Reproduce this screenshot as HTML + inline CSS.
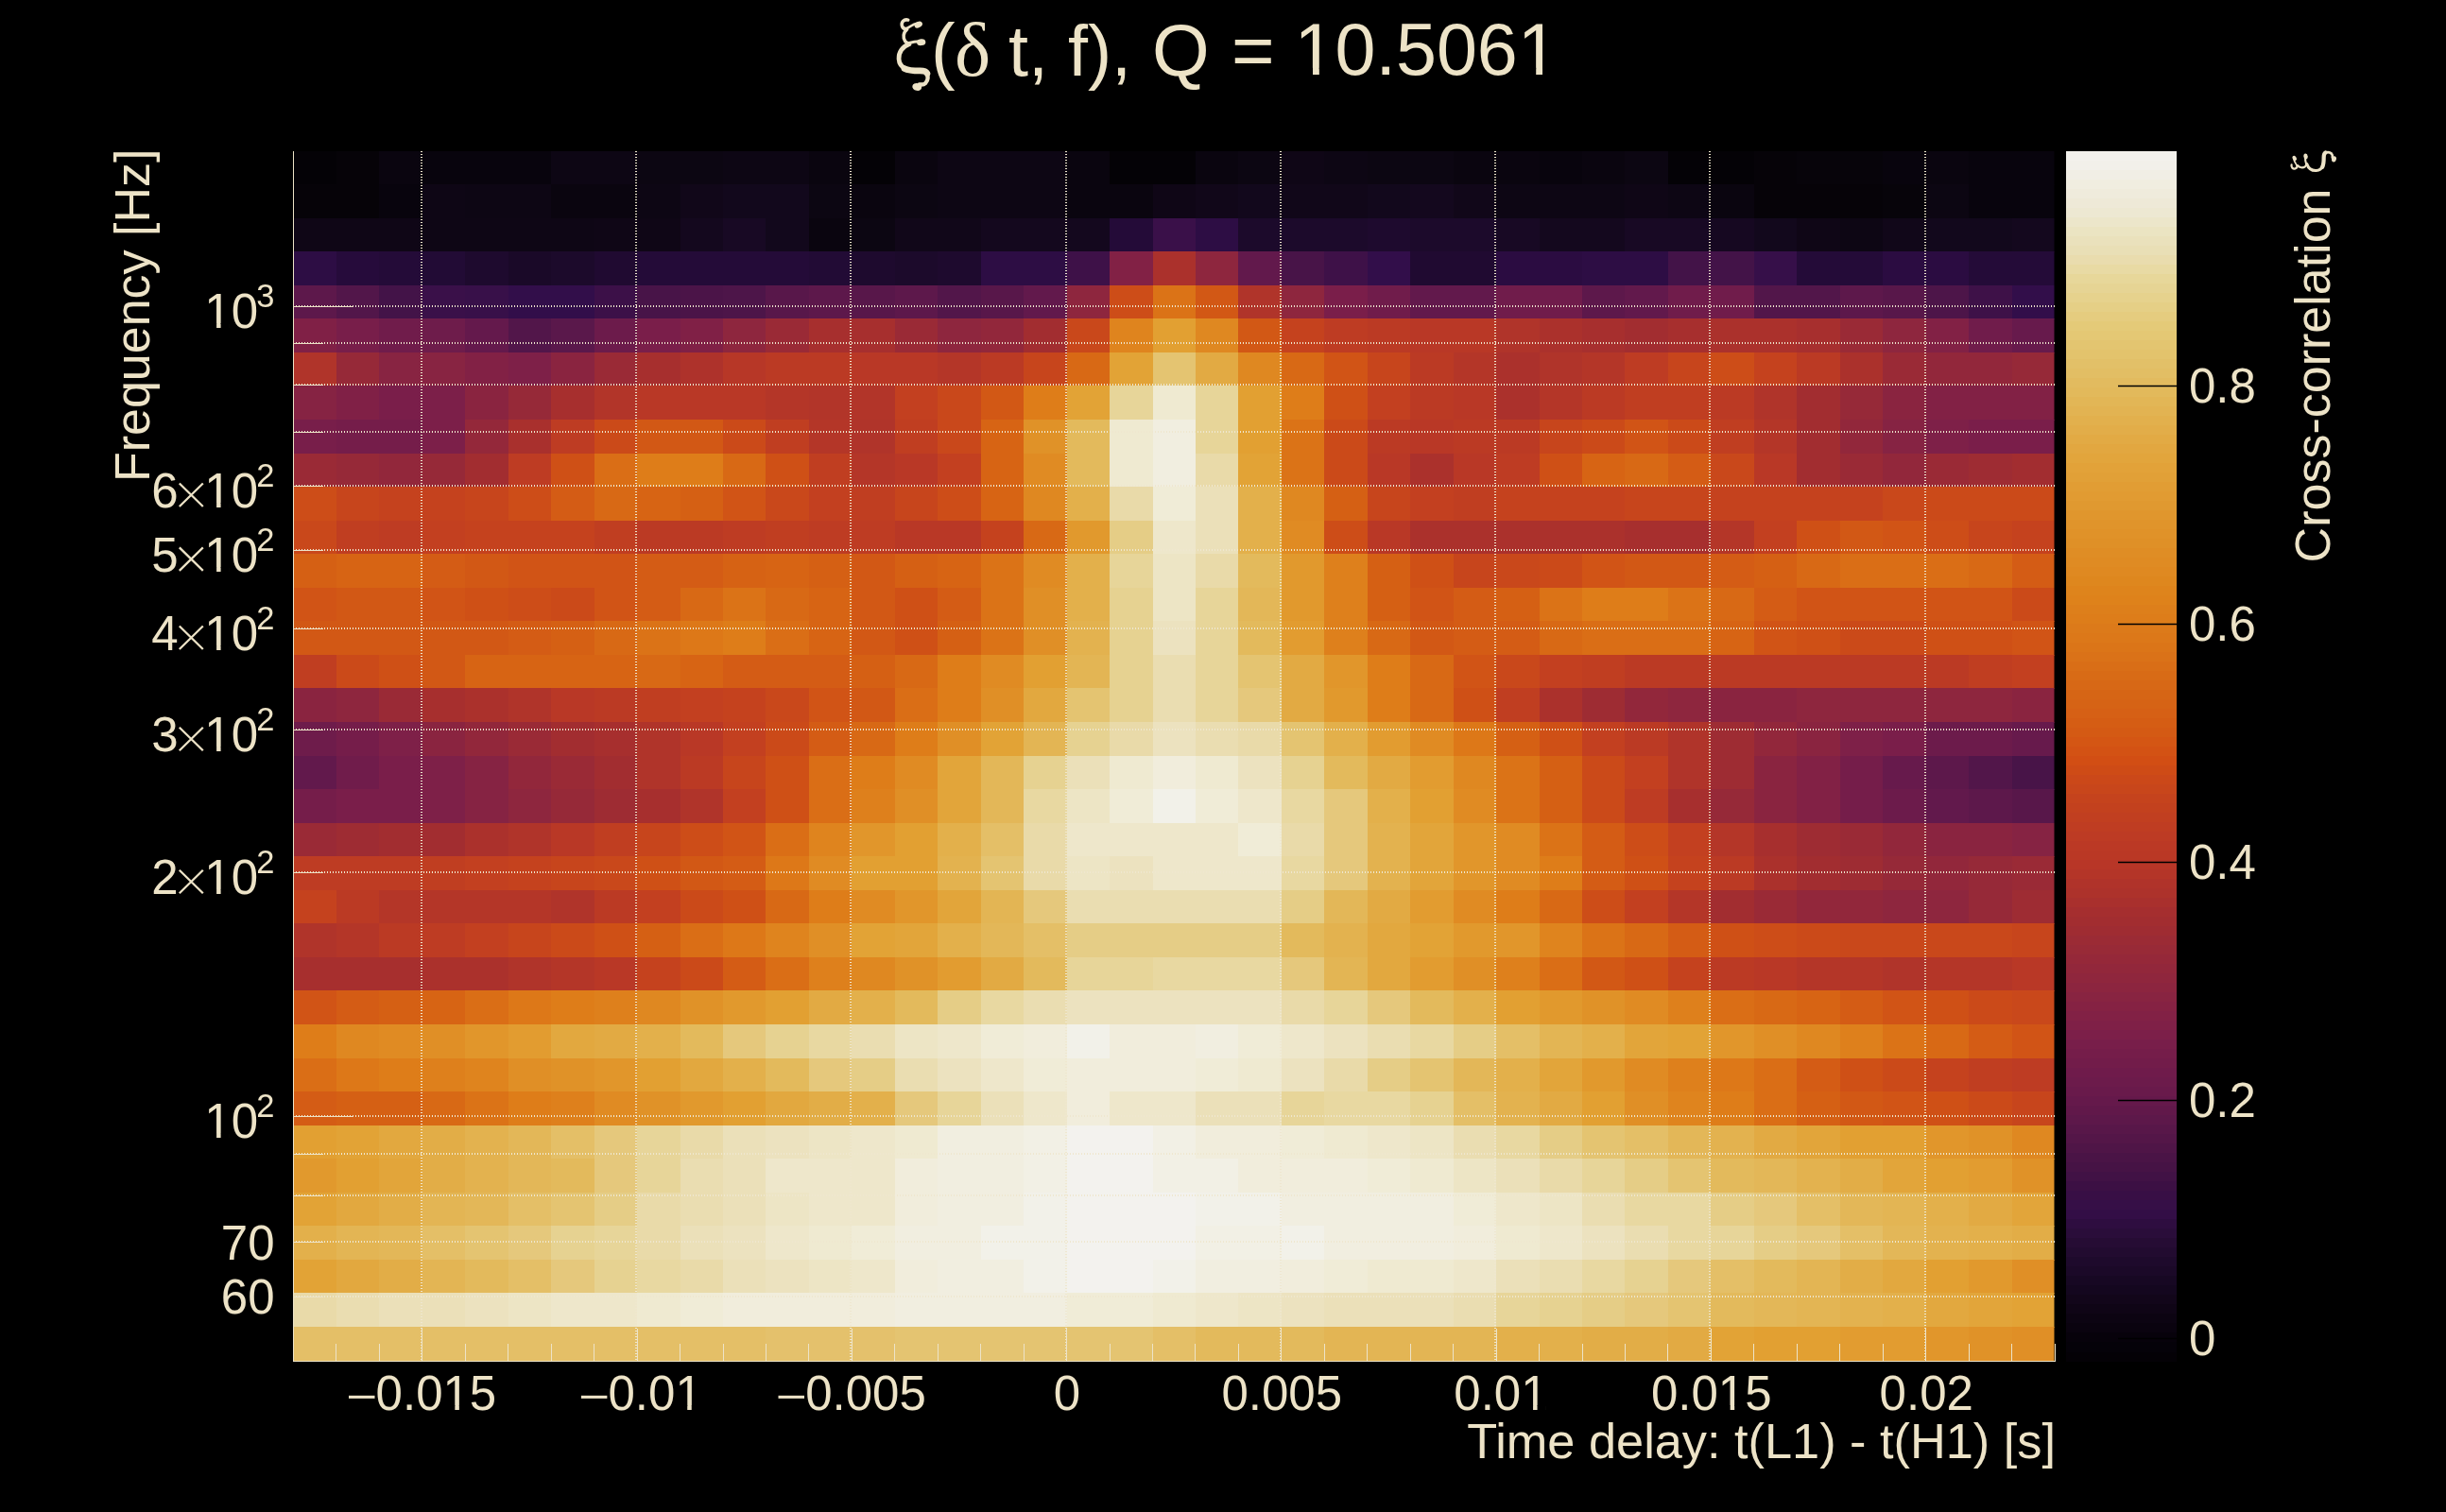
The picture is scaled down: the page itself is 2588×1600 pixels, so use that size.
<!DOCTYPE html><html><head><meta charset="utf-8"><style>
html,body{margin:0;padding:0;background:#000;width:2588px;height:1600px;overflow:hidden}
svg{position:absolute;left:0;top:0;will-change:transform}
text{font-family:"Liberation Sans",sans-serif;fill:#ede3c7}
.s{font-family:"Liberation Serif",serif}
</style></head><body>
<svg width="2588" height="1600" viewBox="0 0 2588 1600">
<rect x="0" y="0" width="2588" height="1600" fill="#000"/>
<defs><clipPath id="pc"><rect x="310" y="160" width="1863.5" height="1281"/></clipPath></defs>
<g shape-rendering="crispEdges" clip-path="url(#pc)">
<rect x="310.50" y="159.60" width="46.05" height="36.16" fill="#040206"/>
<rect x="355.95" y="159.60" width="46.05" height="36.16" fill="#060308"/>
<rect x="401.40" y="159.60" width="46.05" height="36.16" fill="#0a050f"/>
<rect x="446.85" y="159.60" width="46.05" height="36.16" fill="#08040d"/>
<rect x="492.30" y="159.60" width="46.05" height="36.16" fill="#08040d"/>
<rect x="537.76" y="159.60" width="46.05" height="36.16" fill="#08040d"/>
<rect x="583.21" y="159.60" width="46.05" height="36.16" fill="#0d0614"/>
<rect x="628.66" y="159.60" width="46.05" height="36.16" fill="#0d0614"/>
<rect x="674.11" y="159.60" width="46.05" height="36.16" fill="#0c0612"/>
<rect x="719.56" y="159.60" width="46.05" height="36.16" fill="#0c0612"/>
<rect x="765.01" y="159.60" width="46.05" height="36.16" fill="#0d0614"/>
<rect x="810.46" y="159.60" width="46.05" height="36.16" fill="#0d0614"/>
<rect x="855.91" y="159.60" width="46.05" height="36.16" fill="#0a050f"/>
<rect x="901.37" y="159.60" width="46.05" height="36.16" fill="#040206"/>
<rect x="946.82" y="159.60" width="46.05" height="36.16" fill="#0a050f"/>
<rect x="992.27" y="159.60" width="46.05" height="36.16" fill="#0d0614"/>
<rect x="1037.72" y="159.60" width="46.05" height="36.16" fill="#0d0614"/>
<rect x="1083.17" y="159.60" width="46.05" height="36.16" fill="#0d0614"/>
<rect x="1128.62" y="159.60" width="46.05" height="36.16" fill="#0a050f"/>
<rect x="1174.07" y="159.60" width="46.05" height="36.16" fill="#040206"/>
<rect x="1219.52" y="159.60" width="46.05" height="36.16" fill="#040206"/>
<rect x="1264.98" y="159.60" width="46.05" height="36.16" fill="#0a050f"/>
<rect x="1310.43" y="159.60" width="46.05" height="36.16" fill="#0c0612"/>
<rect x="1355.88" y="159.60" width="46.05" height="36.16" fill="#0f0616"/>
<rect x="1401.33" y="159.60" width="46.05" height="36.16" fill="#0d0614"/>
<rect x="1446.78" y="159.60" width="46.05" height="36.16" fill="#0c0612"/>
<rect x="1492.23" y="159.60" width="46.05" height="36.16" fill="#0c0612"/>
<rect x="1537.68" y="159.60" width="46.05" height="36.16" fill="#0a050f"/>
<rect x="1583.13" y="159.60" width="46.05" height="36.16" fill="#0a050f"/>
<rect x="1628.59" y="159.60" width="46.05" height="36.16" fill="#08040d"/>
<rect x="1674.04" y="159.60" width="46.05" height="36.16" fill="#0a050f"/>
<rect x="1719.49" y="159.60" width="46.05" height="36.16" fill="#0c0612"/>
<rect x="1764.94" y="159.60" width="46.05" height="36.16" fill="#040206"/>
<rect x="1810.39" y="159.60" width="46.05" height="36.16" fill="#040206"/>
<rect x="1855.84" y="159.60" width="46.05" height="36.16" fill="#060308"/>
<rect x="1901.29" y="159.60" width="46.05" height="36.16" fill="#07040a"/>
<rect x="1946.74" y="159.60" width="46.05" height="36.16" fill="#07040a"/>
<rect x="1992.20" y="159.60" width="46.05" height="36.16" fill="#08040d"/>
<rect x="2037.65" y="159.60" width="46.05" height="36.16" fill="#0a050f"/>
<rect x="2083.10" y="159.60" width="46.05" height="36.16" fill="#08040d"/>
<rect x="2128.55" y="159.60" width="46.05" height="36.16" fill="#08040d"/>
<rect x="310.50" y="195.16" width="46.05" height="36.16" fill="#060308"/>
<rect x="355.95" y="195.16" width="46.05" height="36.16" fill="#060308"/>
<rect x="401.40" y="195.16" width="46.05" height="36.16" fill="#08040d"/>
<rect x="446.85" y="195.16" width="46.05" height="36.16" fill="#0e0615"/>
<rect x="492.30" y="195.16" width="46.05" height="36.16" fill="#0d0614"/>
<rect x="537.76" y="195.16" width="46.05" height="36.16" fill="#0d0614"/>
<rect x="583.21" y="195.16" width="46.05" height="36.16" fill="#0a050f"/>
<rect x="628.66" y="195.16" width="46.05" height="36.16" fill="#0a050f"/>
<rect x="674.11" y="195.16" width="46.05" height="36.16" fill="#0d0614"/>
<rect x="719.56" y="195.16" width="46.05" height="36.16" fill="#110719"/>
<rect x="765.01" y="195.16" width="46.05" height="36.16" fill="#12081c"/>
<rect x="810.46" y="195.16" width="46.05" height="36.16" fill="#12081c"/>
<rect x="855.91" y="195.16" width="46.05" height="36.16" fill="#0c0612"/>
<rect x="901.37" y="195.16" width="46.05" height="36.16" fill="#0a050f"/>
<rect x="946.82" y="195.16" width="46.05" height="36.16" fill="#0c0612"/>
<rect x="992.27" y="195.16" width="46.05" height="36.16" fill="#0d0614"/>
<rect x="1037.72" y="195.16" width="46.05" height="36.16" fill="#0d0614"/>
<rect x="1083.17" y="195.16" width="46.05" height="36.16" fill="#0d0614"/>
<rect x="1128.62" y="195.16" width="46.05" height="36.16" fill="#0a050f"/>
<rect x="1174.07" y="195.16" width="46.05" height="36.16" fill="#0a050f"/>
<rect x="1219.52" y="195.16" width="46.05" height="36.16" fill="#0f0616"/>
<rect x="1264.98" y="195.16" width="46.05" height="36.16" fill="#110719"/>
<rect x="1310.43" y="195.16" width="46.05" height="36.16" fill="#12081c"/>
<rect x="1355.88" y="195.16" width="46.05" height="36.16" fill="#110719"/>
<rect x="1401.33" y="195.16" width="46.05" height="36.16" fill="#110719"/>
<rect x="1446.78" y="195.16" width="46.05" height="36.16" fill="#12081c"/>
<rect x="1492.23" y="195.16" width="46.05" height="36.16" fill="#14081e"/>
<rect x="1537.68" y="195.16" width="46.05" height="36.16" fill="#110719"/>
<rect x="1583.13" y="195.16" width="46.05" height="36.16" fill="#0d0614"/>
<rect x="1628.59" y="195.16" width="46.05" height="36.16" fill="#0d0614"/>
<rect x="1674.04" y="195.16" width="46.05" height="36.16" fill="#0d0614"/>
<rect x="1719.49" y="195.16" width="46.05" height="36.16" fill="#0f0616"/>
<rect x="1764.94" y="195.16" width="46.05" height="36.16" fill="#0d0614"/>
<rect x="1810.39" y="195.16" width="46.05" height="36.16" fill="#0a050f"/>
<rect x="1855.84" y="195.16" width="46.05" height="36.16" fill="#060308"/>
<rect x="1901.29" y="195.16" width="46.05" height="36.16" fill="#060308"/>
<rect x="1946.74" y="195.16" width="46.05" height="36.16" fill="#060308"/>
<rect x="1992.20" y="195.16" width="46.05" height="36.16" fill="#07040a"/>
<rect x="2037.65" y="195.16" width="46.05" height="36.16" fill="#0c0612"/>
<rect x="2083.10" y="195.16" width="46.05" height="36.16" fill="#08040d"/>
<rect x="2128.55" y="195.16" width="46.05" height="36.16" fill="#08040d"/>
<rect x="310.50" y="230.71" width="46.05" height="36.16" fill="#0f0616"/>
<rect x="355.95" y="230.71" width="46.05" height="36.16" fill="#0f0616"/>
<rect x="401.40" y="230.71" width="46.05" height="36.16" fill="#0f0616"/>
<rect x="446.85" y="230.71" width="46.05" height="36.16" fill="#0e0615"/>
<rect x="492.30" y="230.71" width="46.05" height="36.16" fill="#0e0615"/>
<rect x="537.76" y="230.71" width="46.05" height="36.16" fill="#0e0615"/>
<rect x="583.21" y="230.71" width="46.05" height="36.16" fill="#0e0615"/>
<rect x="628.66" y="230.71" width="46.05" height="36.16" fill="#0f0616"/>
<rect x="674.11" y="230.71" width="46.05" height="36.16" fill="#0f0616"/>
<rect x="719.56" y="230.71" width="46.05" height="36.16" fill="#14081e"/>
<rect x="765.01" y="230.71" width="46.05" height="36.16" fill="#180924"/>
<rect x="810.46" y="230.71" width="46.05" height="36.16" fill="#12081c"/>
<rect x="855.91" y="230.71" width="46.05" height="36.16" fill="#0a050f"/>
<rect x="901.37" y="230.71" width="46.05" height="36.16" fill="#0c0612"/>
<rect x="946.82" y="230.71" width="46.05" height="36.16" fill="#110719"/>
<rect x="992.27" y="230.71" width="46.05" height="36.16" fill="#110719"/>
<rect x="1037.72" y="230.71" width="46.05" height="36.16" fill="#14081e"/>
<rect x="1083.17" y="230.71" width="46.05" height="36.16" fill="#14081e"/>
<rect x="1128.62" y="230.71" width="46.05" height="36.16" fill="#14081e"/>
<rect x="1174.07" y="230.71" width="46.05" height="36.16" fill="#240b38"/>
<rect x="1219.52" y="230.71" width="46.05" height="36.16" fill="#3a1049"/>
<rect x="1264.98" y="230.71" width="46.05" height="36.16" fill="#2d0d44"/>
<rect x="1310.43" y="230.71" width="46.05" height="36.16" fill="#1c0a2b"/>
<rect x="1355.88" y="230.71" width="46.05" height="36.16" fill="#1c0a2b"/>
<rect x="1401.33" y="230.71" width="46.05" height="36.16" fill="#1c0a2b"/>
<rect x="1446.78" y="230.71" width="46.05" height="36.16" fill="#1e0a2e"/>
<rect x="1492.23" y="230.71" width="46.05" height="36.16" fill="#1c0a2b"/>
<rect x="1537.68" y="230.71" width="46.05" height="36.16" fill="#1c0a2b"/>
<rect x="1583.13" y="230.71" width="46.05" height="36.16" fill="#180924"/>
<rect x="1628.59" y="230.71" width="46.05" height="36.16" fill="#14081e"/>
<rect x="1674.04" y="230.71" width="46.05" height="36.16" fill="#14081e"/>
<rect x="1719.49" y="230.71" width="46.05" height="36.16" fill="#180924"/>
<rect x="1764.94" y="230.71" width="46.05" height="36.16" fill="#180924"/>
<rect x="1810.39" y="230.71" width="46.05" height="36.16" fill="#160821"/>
<rect x="1855.84" y="230.71" width="46.05" height="36.16" fill="#12081c"/>
<rect x="1901.29" y="230.71" width="46.05" height="36.16" fill="#0f0616"/>
<rect x="1946.74" y="230.71" width="46.05" height="36.16" fill="#0d0614"/>
<rect x="1992.20" y="230.71" width="46.05" height="36.16" fill="#110719"/>
<rect x="2037.65" y="230.71" width="46.05" height="36.16" fill="#12081c"/>
<rect x="2083.10" y="230.71" width="46.05" height="36.16" fill="#12081c"/>
<rect x="2128.55" y="230.71" width="46.05" height="36.16" fill="#14081e"/>
<rect x="310.50" y="266.27" width="46.05" height="36.16" fill="#2d0d44"/>
<rect x="355.95" y="266.27" width="46.05" height="36.16" fill="#260b3b"/>
<rect x="401.40" y="266.27" width="46.05" height="36.16" fill="#240b38"/>
<rect x="446.85" y="266.27" width="46.05" height="36.16" fill="#220b35"/>
<rect x="492.30" y="266.27" width="46.05" height="36.16" fill="#1e0a2e"/>
<rect x="537.76" y="266.27" width="46.05" height="36.16" fill="#1a0928"/>
<rect x="583.21" y="266.27" width="46.05" height="36.16" fill="#1c0a2b"/>
<rect x="628.66" y="266.27" width="46.05" height="36.16" fill="#200a31"/>
<rect x="674.11" y="266.27" width="46.05" height="36.16" fill="#240b38"/>
<rect x="719.56" y="266.27" width="46.05" height="36.16" fill="#240b38"/>
<rect x="765.01" y="266.27" width="46.05" height="36.16" fill="#240b38"/>
<rect x="810.46" y="266.27" width="46.05" height="36.16" fill="#240b38"/>
<rect x="855.91" y="266.27" width="46.05" height="36.16" fill="#220b35"/>
<rect x="901.37" y="266.27" width="46.05" height="36.16" fill="#1e0a2e"/>
<rect x="946.82" y="266.27" width="46.05" height="36.16" fill="#1c0a2b"/>
<rect x="992.27" y="266.27" width="46.05" height="36.16" fill="#1e0a2e"/>
<rect x="1037.72" y="266.27" width="46.05" height="36.16" fill="#2d0d44"/>
<rect x="1083.17" y="266.27" width="46.05" height="36.16" fill="#2d0d44"/>
<rect x="1128.62" y="266.27" width="46.05" height="36.16" fill="#3e1148"/>
<rect x="1174.07" y="266.27" width="46.05" height="36.16" fill="#822145"/>
<rect x="1219.52" y="266.27" width="46.05" height="36.16" fill="#ab312c"/>
<rect x="1264.98" y="266.27" width="46.05" height="36.16" fill="#8e263e"/>
<rect x="1310.43" y="266.27" width="46.05" height="36.16" fill="#62194c"/>
<rect x="1355.88" y="266.27" width="46.05" height="36.16" fill="#481448"/>
<rect x="1401.33" y="266.27" width="46.05" height="36.16" fill="#3e1148"/>
<rect x="1446.78" y="266.27" width="46.05" height="36.16" fill="#320e4a"/>
<rect x="1492.23" y="266.27" width="46.05" height="36.16" fill="#200a31"/>
<rect x="1537.68" y="266.27" width="46.05" height="36.16" fill="#200a31"/>
<rect x="1583.13" y="266.27" width="46.05" height="36.16" fill="#2b0c41"/>
<rect x="1628.59" y="266.27" width="46.05" height="36.16" fill="#2b0c41"/>
<rect x="1674.04" y="266.27" width="46.05" height="36.16" fill="#2d0d44"/>
<rect x="1719.49" y="266.27" width="46.05" height="36.16" fill="#2d0d44"/>
<rect x="1764.94" y="266.27" width="46.05" height="36.16" fill="#431348"/>
<rect x="1810.39" y="266.27" width="46.05" height="36.16" fill="#431348"/>
<rect x="1855.84" y="266.27" width="46.05" height="36.16" fill="#360f49"/>
<rect x="1901.29" y="266.27" width="46.05" height="36.16" fill="#240b38"/>
<rect x="1946.74" y="266.27" width="46.05" height="36.16" fill="#240b38"/>
<rect x="1992.20" y="266.27" width="46.05" height="36.16" fill="#2b0c41"/>
<rect x="2037.65" y="266.27" width="46.05" height="36.16" fill="#2b0c41"/>
<rect x="2083.10" y="266.27" width="46.05" height="36.16" fill="#240b38"/>
<rect x="2128.55" y="266.27" width="46.05" height="36.16" fill="#240b38"/>
<rect x="310.50" y="301.82" width="46.05" height="36.16" fill="#5d184b"/>
<rect x="355.95" y="301.82" width="46.05" height="36.16" fill="#52164a"/>
<rect x="401.40" y="301.82" width="46.05" height="36.16" fill="#431348"/>
<rect x="446.85" y="301.82" width="46.05" height="36.16" fill="#3a1049"/>
<rect x="492.30" y="301.82" width="46.05" height="36.16" fill="#381049"/>
<rect x="537.76" y="301.82" width="46.05" height="36.16" fill="#320e4a"/>
<rect x="583.21" y="301.82" width="46.05" height="36.16" fill="#320e4a"/>
<rect x="628.66" y="301.82" width="46.05" height="36.16" fill="#3c1048"/>
<rect x="674.11" y="301.82" width="46.05" height="36.16" fill="#481448"/>
<rect x="719.56" y="301.82" width="46.05" height="36.16" fill="#4b1448"/>
<rect x="765.01" y="301.82" width="46.05" height="36.16" fill="#4d1549"/>
<rect x="810.46" y="301.82" width="46.05" height="36.16" fill="#58174a"/>
<rect x="855.91" y="301.82" width="46.05" height="36.16" fill="#5d184b"/>
<rect x="901.37" y="301.82" width="46.05" height="36.16" fill="#58174a"/>
<rect x="946.82" y="301.82" width="46.05" height="36.16" fill="#5d184b"/>
<rect x="992.27" y="301.82" width="46.05" height="36.16" fill="#52164a"/>
<rect x="1037.72" y="301.82" width="46.05" height="36.16" fill="#58174a"/>
<rect x="1083.17" y="301.82" width="46.05" height="36.16" fill="#62194c"/>
<rect x="1128.62" y="301.82" width="46.05" height="36.16" fill="#8e263e"/>
<rect x="1174.07" y="301.82" width="46.05" height="36.16" fill="#cd4d18"/>
<rect x="1219.52" y="301.82" width="46.05" height="36.16" fill="#db7317"/>
<rect x="1264.98" y="301.82" width="46.05" height="36.16" fill="#d25815"/>
<rect x="1310.43" y="301.82" width="46.05" height="36.16" fill="#b0342a"/>
<rect x="1355.88" y="301.82" width="46.05" height="36.16" fill="#8e263e"/>
<rect x="1401.33" y="301.82" width="46.05" height="36.16" fill="#7a1e4a"/>
<rect x="1446.78" y="301.82" width="46.05" height="36.16" fill="#701c4b"/>
<rect x="1492.23" y="301.82" width="46.05" height="36.16" fill="#62194c"/>
<rect x="1537.68" y="301.82" width="46.05" height="36.16" fill="#62194c"/>
<rect x="1583.13" y="301.82" width="46.05" height="36.16" fill="#701c4b"/>
<rect x="1628.59" y="301.82" width="46.05" height="36.16" fill="#701c4b"/>
<rect x="1674.04" y="301.82" width="46.05" height="36.16" fill="#5d184b"/>
<rect x="1719.49" y="301.82" width="46.05" height="36.16" fill="#62194c"/>
<rect x="1764.94" y="301.82" width="46.05" height="36.16" fill="#701c4b"/>
<rect x="1810.39" y="301.82" width="46.05" height="36.16" fill="#701c4b"/>
<rect x="1855.84" y="301.82" width="46.05" height="36.16" fill="#52164a"/>
<rect x="1901.29" y="301.82" width="46.05" height="36.16" fill="#52164a"/>
<rect x="1946.74" y="301.82" width="46.05" height="36.16" fill="#5d184b"/>
<rect x="1992.20" y="301.82" width="46.05" height="36.16" fill="#58174a"/>
<rect x="2037.65" y="301.82" width="46.05" height="36.16" fill="#4d1549"/>
<rect x="2083.10" y="301.82" width="46.05" height="36.16" fill="#3e1148"/>
<rect x="2128.55" y="301.82" width="46.05" height="36.16" fill="#320e4a"/>
<rect x="310.50" y="337.38" width="46.05" height="36.16" fill="#802046"/>
<rect x="355.95" y="337.38" width="46.05" height="36.16" fill="#781e4a"/>
<rect x="401.40" y="337.38" width="46.05" height="36.16" fill="#701c4b"/>
<rect x="446.85" y="337.38" width="46.05" height="36.16" fill="#6e1c4b"/>
<rect x="492.30" y="337.38" width="46.05" height="36.16" fill="#64194c"/>
<rect x="537.76" y="337.38" width="46.05" height="36.16" fill="#52164a"/>
<rect x="583.21" y="337.38" width="46.05" height="36.16" fill="#5a184b"/>
<rect x="628.66" y="337.38" width="46.05" height="36.16" fill="#6c1b4b"/>
<rect x="674.11" y="337.38" width="46.05" height="36.16" fill="#7a1e4a"/>
<rect x="719.56" y="337.38" width="46.05" height="36.16" fill="#802046"/>
<rect x="765.01" y="337.38" width="46.05" height="36.16" fill="#8e263e"/>
<rect x="810.46" y="337.38" width="46.05" height="36.16" fill="#9a2a36"/>
<rect x="855.91" y="337.38" width="46.05" height="36.16" fill="#a72f2e"/>
<rect x="901.37" y="337.38" width="46.05" height="36.16" fill="#a72f2e"/>
<rect x="946.82" y="337.38" width="46.05" height="36.16" fill="#9a2a36"/>
<rect x="992.27" y="337.38" width="46.05" height="36.16" fill="#8e263e"/>
<rect x="1037.72" y="337.38" width="46.05" height="36.16" fill="#92273b"/>
<rect x="1083.17" y="337.38" width="46.05" height="36.16" fill="#a22d30"/>
<rect x="1128.62" y="337.38" width="46.05" height="36.16" fill="#c9481b"/>
<rect x="1174.07" y="337.38" width="46.05" height="36.16" fill="#df841e"/>
<rect x="1219.52" y="337.38" width="46.05" height="36.16" fill="#e2a032"/>
<rect x="1264.98" y="337.38" width="46.05" height="36.16" fill="#df8821"/>
<rect x="1310.43" y="337.38" width="46.05" height="36.16" fill="#d25815"/>
<rect x="1355.88" y="337.38" width="46.05" height="36.16" fill="#c5421e"/>
<rect x="1401.33" y="337.38" width="46.05" height="36.16" fill="#be3c23"/>
<rect x="1446.78" y="337.38" width="46.05" height="36.16" fill="#bb3a24"/>
<rect x="1492.23" y="337.38" width="46.05" height="36.16" fill="#b93826"/>
<rect x="1537.68" y="337.38" width="46.05" height="36.16" fill="#b93826"/>
<rect x="1583.13" y="337.38" width="46.05" height="36.16" fill="#b0342a"/>
<rect x="1628.59" y="337.38" width="46.05" height="36.16" fill="#ab312c"/>
<rect x="1674.04" y="337.38" width="46.05" height="36.16" fill="#a72f2e"/>
<rect x="1719.49" y="337.38" width="46.05" height="36.16" fill="#a22d30"/>
<rect x="1764.94" y="337.38" width="46.05" height="36.16" fill="#a72f2e"/>
<rect x="1810.39" y="337.38" width="46.05" height="36.16" fill="#ab312c"/>
<rect x="1855.84" y="337.38" width="46.05" height="36.16" fill="#ab312c"/>
<rect x="1901.29" y="337.38" width="46.05" height="36.16" fill="#a72f2e"/>
<rect x="1946.74" y="337.38" width="46.05" height="36.16" fill="#9a2a36"/>
<rect x="1992.20" y="337.38" width="46.05" height="36.16" fill="#8e263e"/>
<rect x="2037.65" y="337.38" width="46.05" height="36.16" fill="#822145"/>
<rect x="2083.10" y="337.38" width="46.05" height="36.16" fill="#701c4b"/>
<rect x="2128.55" y="337.38" width="46.05" height="36.16" fill="#671a4c"/>
<rect x="310.50" y="372.93" width="46.05" height="36.16" fill="#b0342a"/>
<rect x="355.95" y="372.93" width="46.05" height="36.16" fill="#962938"/>
<rect x="401.40" y="372.93" width="46.05" height="36.16" fill="#882442"/>
<rect x="446.85" y="372.93" width="46.05" height="36.16" fill="#882442"/>
<rect x="492.30" y="372.93" width="46.05" height="36.16" fill="#822145"/>
<rect x="537.76" y="372.93" width="46.05" height="36.16" fill="#7e2048"/>
<rect x="583.21" y="372.93" width="46.05" height="36.16" fill="#8a2440"/>
<rect x="628.66" y="372.93" width="46.05" height="36.16" fill="#9a2a36"/>
<rect x="674.11" y="372.93" width="46.05" height="36.16" fill="#a72f2e"/>
<rect x="719.56" y="372.93" width="46.05" height="36.16" fill="#ae322b"/>
<rect x="765.01" y="372.93" width="46.05" height="36.16" fill="#b73727"/>
<rect x="810.46" y="372.93" width="46.05" height="36.16" fill="#bb3a24"/>
<rect x="855.91" y="372.93" width="46.05" height="36.16" fill="#bb3a24"/>
<rect x="901.37" y="372.93" width="46.05" height="36.16" fill="#b93826"/>
<rect x="946.82" y="372.93" width="46.05" height="36.16" fill="#b93826"/>
<rect x="992.27" y="372.93" width="46.05" height="36.16" fill="#b43628"/>
<rect x="1037.72" y="372.93" width="46.05" height="36.16" fill="#bb3a24"/>
<rect x="1083.17" y="372.93" width="46.05" height="36.16" fill="#c7451c"/>
<rect x="1128.62" y="372.93" width="46.05" height="36.16" fill="#d86915"/>
<rect x="1174.07" y="372.93" width="46.05" height="36.16" fill="#e2a336"/>
<rect x="1219.52" y="372.93" width="46.05" height="36.16" fill="#e4c471"/>
<rect x="1264.98" y="372.93" width="46.05" height="36.16" fill="#e2aa43"/>
<rect x="1310.43" y="372.93" width="46.05" height="36.16" fill="#df8821"/>
<rect x="1355.88" y="372.93" width="46.05" height="36.16" fill="#d86915"/>
<rect x="1401.33" y="372.93" width="46.05" height="36.16" fill="#d15416"/>
<rect x="1446.78" y="372.93" width="46.05" height="36.16" fill="#c7451c"/>
<rect x="1492.23" y="372.93" width="46.05" height="36.16" fill="#bb3a24"/>
<rect x="1537.68" y="372.93" width="46.05" height="36.16" fill="#b43628"/>
<rect x="1583.13" y="372.93" width="46.05" height="36.16" fill="#ab312c"/>
<rect x="1628.59" y="372.93" width="46.05" height="36.16" fill="#b0342a"/>
<rect x="1674.04" y="372.93" width="46.05" height="36.16" fill="#b43628"/>
<rect x="1719.49" y="372.93" width="46.05" height="36.16" fill="#be3c23"/>
<rect x="1764.94" y="372.93" width="46.05" height="36.16" fill="#c7451c"/>
<rect x="1810.39" y="372.93" width="46.05" height="36.16" fill="#cd4d18"/>
<rect x="1855.84" y="372.93" width="46.05" height="36.16" fill="#c5421e"/>
<rect x="1901.29" y="372.93" width="46.05" height="36.16" fill="#bb3a24"/>
<rect x="1946.74" y="372.93" width="46.05" height="36.16" fill="#ab312c"/>
<rect x="1992.20" y="372.93" width="46.05" height="36.16" fill="#9a2a36"/>
<rect x="2037.65" y="372.93" width="46.05" height="36.16" fill="#92273b"/>
<rect x="2083.10" y="372.93" width="46.05" height="36.16" fill="#92273b"/>
<rect x="2128.55" y="372.93" width="46.05" height="36.16" fill="#962938"/>
<rect x="310.50" y="408.49" width="46.05" height="36.16" fill="#862343"/>
<rect x="355.95" y="408.49" width="46.05" height="36.16" fill="#802046"/>
<rect x="401.40" y="408.49" width="46.05" height="36.16" fill="#7a1e4a"/>
<rect x="446.85" y="408.49" width="46.05" height="36.16" fill="#7c1f49"/>
<rect x="492.30" y="408.49" width="46.05" height="36.16" fill="#8a2440"/>
<rect x="537.76" y="408.49" width="46.05" height="36.16" fill="#962938"/>
<rect x="583.21" y="408.49" width="46.05" height="36.16" fill="#a72f2e"/>
<rect x="628.66" y="408.49" width="46.05" height="36.16" fill="#b23529"/>
<rect x="674.11" y="408.49" width="46.05" height="36.16" fill="#b93826"/>
<rect x="719.56" y="408.49" width="46.05" height="36.16" fill="#b93826"/>
<rect x="765.01" y="408.49" width="46.05" height="36.16" fill="#b93826"/>
<rect x="810.46" y="408.49" width="46.05" height="36.16" fill="#b43628"/>
<rect x="855.91" y="408.49" width="46.05" height="36.16" fill="#b23529"/>
<rect x="901.37" y="408.49" width="46.05" height="36.16" fill="#b23529"/>
<rect x="946.82" y="408.49" width="46.05" height="36.16" fill="#c34020"/>
<rect x="992.27" y="408.49" width="46.05" height="36.16" fill="#c9481b"/>
<rect x="1037.72" y="408.49" width="46.05" height="36.16" fill="#d25815"/>
<rect x="1083.17" y="408.49" width="46.05" height="36.16" fill="#de7d19"/>
<rect x="1128.62" y="408.49" width="46.05" height="36.16" fill="#e2a336"/>
<rect x="1174.07" y="408.49" width="46.05" height="36.16" fill="#e7d599"/>
<rect x="1219.52" y="408.49" width="46.05" height="36.16" fill="#efead1"/>
<rect x="1264.98" y="408.49" width="46.05" height="36.16" fill="#e7d599"/>
<rect x="1310.43" y="408.49" width="46.05" height="36.16" fill="#e2a032"/>
<rect x="1355.88" y="408.49" width="46.05" height="36.16" fill="#de7d19"/>
<rect x="1401.33" y="408.49" width="46.05" height="36.16" fill="#cf5016"/>
<rect x="1446.78" y="408.49" width="46.05" height="36.16" fill="#c34020"/>
<rect x="1492.23" y="408.49" width="46.05" height="36.16" fill="#bb3a24"/>
<rect x="1537.68" y="408.49" width="46.05" height="36.16" fill="#b93826"/>
<rect x="1583.13" y="408.49" width="46.05" height="36.16" fill="#ab312c"/>
<rect x="1628.59" y="408.49" width="46.05" height="36.16" fill="#b43628"/>
<rect x="1674.04" y="408.49" width="46.05" height="36.16" fill="#bb3a24"/>
<rect x="1719.49" y="408.49" width="46.05" height="36.16" fill="#c03e21"/>
<rect x="1764.94" y="408.49" width="46.05" height="36.16" fill="#c03e21"/>
<rect x="1810.39" y="408.49" width="46.05" height="36.16" fill="#bb3a24"/>
<rect x="1855.84" y="408.49" width="46.05" height="36.16" fill="#b0342a"/>
<rect x="1901.29" y="408.49" width="46.05" height="36.16" fill="#a22d30"/>
<rect x="1946.74" y="408.49" width="46.05" height="36.16" fill="#962938"/>
<rect x="1992.20" y="408.49" width="46.05" height="36.16" fill="#8a2440"/>
<rect x="2037.65" y="408.49" width="46.05" height="36.16" fill="#822145"/>
<rect x="2083.10" y="408.49" width="46.05" height="36.16" fill="#822145"/>
<rect x="2128.55" y="408.49" width="46.05" height="36.16" fill="#822145"/>
<rect x="310.50" y="444.04" width="46.05" height="36.16" fill="#781e4a"/>
<rect x="355.95" y="444.04" width="46.05" height="36.16" fill="#751d4a"/>
<rect x="401.40" y="444.04" width="46.05" height="36.16" fill="#751d4a"/>
<rect x="446.85" y="444.04" width="46.05" height="36.16" fill="#7c1f49"/>
<rect x="492.30" y="444.04" width="46.05" height="36.16" fill="#94283a"/>
<rect x="537.76" y="444.04" width="46.05" height="36.16" fill="#a9302d"/>
<rect x="583.21" y="444.04" width="46.05" height="36.16" fill="#be3c23"/>
<rect x="628.66" y="444.04" width="46.05" height="36.16" fill="#cb4a19"/>
<rect x="674.11" y="444.04" width="46.05" height="36.16" fill="#d25815"/>
<rect x="719.56" y="444.04" width="46.05" height="36.16" fill="#d25815"/>
<rect x="765.01" y="444.04" width="46.05" height="36.16" fill="#cb4a19"/>
<rect x="810.46" y="444.04" width="46.05" height="36.16" fill="#c03e21"/>
<rect x="855.91" y="444.04" width="46.05" height="36.16" fill="#b43628"/>
<rect x="901.37" y="444.04" width="46.05" height="36.16" fill="#b0342a"/>
<rect x="946.82" y="444.04" width="46.05" height="36.16" fill="#c03e21"/>
<rect x="992.27" y="444.04" width="46.05" height="36.16" fill="#c9481b"/>
<rect x="1037.72" y="444.04" width="46.05" height="36.16" fill="#d76414"/>
<rect x="1083.17" y="444.04" width="46.05" height="36.16" fill="#e09228"/>
<rect x="1128.62" y="444.04" width="46.05" height="36.16" fill="#e3ba5c"/>
<rect x="1174.07" y="444.04" width="46.05" height="36.16" fill="#efead1"/>
<rect x="1219.52" y="444.04" width="46.05" height="36.16" fill="#f1eee0"/>
<rect x="1264.98" y="444.04" width="46.05" height="36.16" fill="#e7d599"/>
<rect x="1310.43" y="444.04" width="46.05" height="36.16" fill="#e2a032"/>
<rect x="1355.88" y="444.04" width="46.05" height="36.16" fill="#db7317"/>
<rect x="1401.33" y="444.04" width="46.05" height="36.16" fill="#cb4a19"/>
<rect x="1446.78" y="444.04" width="46.05" height="36.16" fill="#bb3a24"/>
<rect x="1492.23" y="444.04" width="46.05" height="36.16" fill="#b93826"/>
<rect x="1537.68" y="444.04" width="46.05" height="36.16" fill="#bb3a24"/>
<rect x="1583.13" y="444.04" width="46.05" height="36.16" fill="#bb3a24"/>
<rect x="1628.59" y="444.04" width="46.05" height="36.16" fill="#c7451c"/>
<rect x="1674.04" y="444.04" width="46.05" height="36.16" fill="#cb4a19"/>
<rect x="1719.49" y="444.04" width="46.05" height="36.16" fill="#d15416"/>
<rect x="1764.94" y="444.04" width="46.05" height="36.16" fill="#cb4a19"/>
<rect x="1810.39" y="444.04" width="46.05" height="36.16" fill="#c03e21"/>
<rect x="1855.84" y="444.04" width="46.05" height="36.16" fill="#b43628"/>
<rect x="1901.29" y="444.04" width="46.05" height="36.16" fill="#a22d30"/>
<rect x="1946.74" y="444.04" width="46.05" height="36.16" fill="#92273b"/>
<rect x="1992.20" y="444.04" width="46.05" height="36.16" fill="#862343"/>
<rect x="2037.65" y="444.04" width="46.05" height="36.16" fill="#7e2048"/>
<rect x="2083.10" y="444.04" width="46.05" height="36.16" fill="#7a1e4a"/>
<rect x="2128.55" y="444.04" width="46.05" height="36.16" fill="#7a1e4a"/>
<rect x="310.50" y="479.60" width="46.05" height="36.16" fill="#9a2a36"/>
<rect x="355.95" y="479.60" width="46.05" height="36.16" fill="#962938"/>
<rect x="401.40" y="479.60" width="46.05" height="36.16" fill="#92273b"/>
<rect x="446.85" y="479.60" width="46.05" height="36.16" fill="#962938"/>
<rect x="492.30" y="479.60" width="46.05" height="36.16" fill="#a22d30"/>
<rect x="537.76" y="479.60" width="46.05" height="36.16" fill="#be3c23"/>
<rect x="583.21" y="479.60" width="46.05" height="36.16" fill="#cf5016"/>
<rect x="628.66" y="479.60" width="46.05" height="36.16" fill="#da6e16"/>
<rect x="674.11" y="479.60" width="46.05" height="36.16" fill="#de7d19"/>
<rect x="719.56" y="479.60" width="46.05" height="36.16" fill="#de7d19"/>
<rect x="765.01" y="479.60" width="46.05" height="36.16" fill="#d86915"/>
<rect x="810.46" y="479.60" width="46.05" height="36.16" fill="#cf5016"/>
<rect x="855.91" y="479.60" width="46.05" height="36.16" fill="#c03e21"/>
<rect x="901.37" y="479.60" width="46.05" height="36.16" fill="#b43628"/>
<rect x="946.82" y="479.60" width="46.05" height="36.16" fill="#b93826"/>
<rect x="992.27" y="479.60" width="46.05" height="36.16" fill="#c34020"/>
<rect x="1037.72" y="479.60" width="46.05" height="36.16" fill="#d76414"/>
<rect x="1083.17" y="479.60" width="46.05" height="36.16" fill="#e08b23"/>
<rect x="1128.62" y="479.60" width="46.05" height="36.16" fill="#e3ba5c"/>
<rect x="1174.07" y="479.60" width="46.05" height="36.16" fill="#efead1"/>
<rect x="1219.52" y="479.60" width="46.05" height="36.16" fill="#f1eee0"/>
<rect x="1264.98" y="479.60" width="46.05" height="36.16" fill="#e9daa9"/>
<rect x="1310.43" y="479.60" width="46.05" height="36.16" fill="#e2a336"/>
<rect x="1355.88" y="479.60" width="46.05" height="36.16" fill="#db7317"/>
<rect x="1401.33" y="479.60" width="46.05" height="36.16" fill="#cb4a19"/>
<rect x="1446.78" y="479.60" width="46.05" height="36.16" fill="#b93826"/>
<rect x="1492.23" y="479.60" width="46.05" height="36.16" fill="#ab312c"/>
<rect x="1537.68" y="479.60" width="46.05" height="36.16" fill="#b93826"/>
<rect x="1583.13" y="479.60" width="46.05" height="36.16" fill="#be3c23"/>
<rect x="1628.59" y="479.60" width="46.05" height="36.16" fill="#cf5016"/>
<rect x="1674.04" y="479.60" width="46.05" height="36.16" fill="#d76414"/>
<rect x="1719.49" y="479.60" width="46.05" height="36.16" fill="#d86915"/>
<rect x="1764.94" y="479.60" width="46.05" height="36.16" fill="#d45c15"/>
<rect x="1810.39" y="479.60" width="46.05" height="36.16" fill="#c9481b"/>
<rect x="1855.84" y="479.60" width="46.05" height="36.16" fill="#b93826"/>
<rect x="1901.29" y="479.60" width="46.05" height="36.16" fill="#a22d30"/>
<rect x="1946.74" y="479.60" width="46.05" height="36.16" fill="#9a2a36"/>
<rect x="1992.20" y="479.60" width="46.05" height="36.16" fill="#92273b"/>
<rect x="2037.65" y="479.60" width="46.05" height="36.16" fill="#9a2a36"/>
<rect x="2083.10" y="479.60" width="46.05" height="36.16" fill="#9e2c33"/>
<rect x="2128.55" y="479.60" width="46.05" height="36.16" fill="#a22d30"/>
<rect x="310.50" y="515.16" width="46.05" height="36.16" fill="#cd4d18"/>
<rect x="355.95" y="515.16" width="46.05" height="36.16" fill="#c7451c"/>
<rect x="401.40" y="515.16" width="46.05" height="36.16" fill="#c5421e"/>
<rect x="446.85" y="515.16" width="46.05" height="36.16" fill="#c5421e"/>
<rect x="492.30" y="515.16" width="46.05" height="36.16" fill="#c7451c"/>
<rect x="537.76" y="515.16" width="46.05" height="36.16" fill="#cd4d18"/>
<rect x="583.21" y="515.16" width="46.05" height="36.16" fill="#d45c15"/>
<rect x="628.66" y="515.16" width="46.05" height="36.16" fill="#d86915"/>
<rect x="674.11" y="515.16" width="46.05" height="36.16" fill="#d76414"/>
<rect x="719.56" y="515.16" width="46.05" height="36.16" fill="#d56014"/>
<rect x="765.01" y="515.16" width="46.05" height="36.16" fill="#d15416"/>
<rect x="810.46" y="515.16" width="46.05" height="36.16" fill="#c9481b"/>
<rect x="855.91" y="515.16" width="46.05" height="36.16" fill="#c34020"/>
<rect x="901.37" y="515.16" width="46.05" height="36.16" fill="#c03e21"/>
<rect x="946.82" y="515.16" width="46.05" height="36.16" fill="#c7451c"/>
<rect x="992.27" y="515.16" width="46.05" height="36.16" fill="#cd4d18"/>
<rect x="1037.72" y="515.16" width="46.05" height="36.16" fill="#d76414"/>
<rect x="1083.17" y="515.16" width="46.05" height="36.16" fill="#df8821"/>
<rect x="1128.62" y="515.16" width="46.05" height="36.16" fill="#e3b04b"/>
<rect x="1174.07" y="515.16" width="46.05" height="36.16" fill="#e9daa9"/>
<rect x="1219.52" y="515.16" width="46.05" height="36.16" fill="#f0ecd7"/>
<rect x="1264.98" y="515.16" width="46.05" height="36.16" fill="#ebe0b9"/>
<rect x="1310.43" y="515.16" width="46.05" height="36.16" fill="#e3b04b"/>
<rect x="1355.88" y="515.16" width="46.05" height="36.16" fill="#df8821"/>
<rect x="1401.33" y="515.16" width="46.05" height="36.16" fill="#d56014"/>
<rect x="1446.78" y="515.16" width="46.05" height="36.16" fill="#c7451c"/>
<rect x="1492.23" y="515.16" width="46.05" height="36.16" fill="#c34020"/>
<rect x="1537.68" y="515.16" width="46.05" height="36.16" fill="#c03e21"/>
<rect x="1583.13" y="515.16" width="46.05" height="36.16" fill="#c5421e"/>
<rect x="1628.59" y="515.16" width="46.05" height="36.16" fill="#c5421e"/>
<rect x="1674.04" y="515.16" width="46.05" height="36.16" fill="#c5421e"/>
<rect x="1719.49" y="515.16" width="46.05" height="36.16" fill="#c7451c"/>
<rect x="1764.94" y="515.16" width="46.05" height="36.16" fill="#c7451c"/>
<rect x="1810.39" y="515.16" width="46.05" height="36.16" fill="#c5421e"/>
<rect x="1855.84" y="515.16" width="46.05" height="36.16" fill="#c5421e"/>
<rect x="1901.29" y="515.16" width="46.05" height="36.16" fill="#c5421e"/>
<rect x="1946.74" y="515.16" width="46.05" height="36.16" fill="#c5421e"/>
<rect x="1992.20" y="515.16" width="46.05" height="36.16" fill="#c9481b"/>
<rect x="2037.65" y="515.16" width="46.05" height="36.16" fill="#cb4a19"/>
<rect x="2083.10" y="515.16" width="46.05" height="36.16" fill="#cb4a19"/>
<rect x="2128.55" y="515.16" width="46.05" height="36.16" fill="#cb4a19"/>
<rect x="310.50" y="550.71" width="46.05" height="36.16" fill="#c9481b"/>
<rect x="355.95" y="550.71" width="46.05" height="36.16" fill="#c03e21"/>
<rect x="401.40" y="550.71" width="46.05" height="36.16" fill="#be3c23"/>
<rect x="446.85" y="550.71" width="46.05" height="36.16" fill="#c34020"/>
<rect x="492.30" y="550.71" width="46.05" height="36.16" fill="#c5421e"/>
<rect x="537.76" y="550.71" width="46.05" height="36.16" fill="#c5421e"/>
<rect x="583.21" y="550.71" width="46.05" height="36.16" fill="#c5421e"/>
<rect x="628.66" y="550.71" width="46.05" height="36.16" fill="#c03e21"/>
<rect x="674.11" y="550.71" width="46.05" height="36.16" fill="#bb3a24"/>
<rect x="719.56" y="550.71" width="46.05" height="36.16" fill="#bb3a24"/>
<rect x="765.01" y="550.71" width="46.05" height="36.16" fill="#be3c23"/>
<rect x="810.46" y="550.71" width="46.05" height="36.16" fill="#c03e21"/>
<rect x="855.91" y="550.71" width="46.05" height="36.16" fill="#be3c23"/>
<rect x="901.37" y="550.71" width="46.05" height="36.16" fill="#be3c23"/>
<rect x="946.82" y="550.71" width="46.05" height="36.16" fill="#b93826"/>
<rect x="992.27" y="550.71" width="46.05" height="36.16" fill="#b93826"/>
<rect x="1037.72" y="550.71" width="46.05" height="36.16" fill="#c5421e"/>
<rect x="1083.17" y="550.71" width="46.05" height="36.16" fill="#d86915"/>
<rect x="1128.62" y="550.71" width="46.05" height="36.16" fill="#e1992d"/>
<rect x="1174.07" y="550.71" width="46.05" height="36.16" fill="#e5cd86"/>
<rect x="1219.52" y="550.71" width="46.05" height="36.16" fill="#eee7cb"/>
<rect x="1264.98" y="550.71" width="46.05" height="36.16" fill="#ebe0b9"/>
<rect x="1310.43" y="550.71" width="46.05" height="36.16" fill="#e3b04b"/>
<rect x="1355.88" y="550.71" width="46.05" height="36.16" fill="#e08b23"/>
<rect x="1401.33" y="550.71" width="46.05" height="36.16" fill="#cd4d18"/>
<rect x="1446.78" y="550.71" width="46.05" height="36.16" fill="#b93826"/>
<rect x="1492.23" y="550.71" width="46.05" height="36.16" fill="#ab312c"/>
<rect x="1537.68" y="550.71" width="46.05" height="36.16" fill="#ab312c"/>
<rect x="1583.13" y="550.71" width="46.05" height="36.16" fill="#ab312c"/>
<rect x="1628.59" y="550.71" width="46.05" height="36.16" fill="#ab312c"/>
<rect x="1674.04" y="550.71" width="46.05" height="36.16" fill="#ab312c"/>
<rect x="1719.49" y="550.71" width="46.05" height="36.16" fill="#a72f2e"/>
<rect x="1764.94" y="550.71" width="46.05" height="36.16" fill="#a72f2e"/>
<rect x="1810.39" y="550.71" width="46.05" height="36.16" fill="#b43628"/>
<rect x="1855.84" y="550.71" width="46.05" height="36.16" fill="#c34020"/>
<rect x="1901.29" y="550.71" width="46.05" height="36.16" fill="#cf5016"/>
<rect x="1946.74" y="550.71" width="46.05" height="36.16" fill="#d25815"/>
<rect x="1992.20" y="550.71" width="46.05" height="36.16" fill="#d15416"/>
<rect x="2037.65" y="550.71" width="46.05" height="36.16" fill="#cd4d18"/>
<rect x="2083.10" y="550.71" width="46.05" height="36.16" fill="#c7451c"/>
<rect x="2128.55" y="550.71" width="46.05" height="36.16" fill="#c5421e"/>
<rect x="310.50" y="586.27" width="46.05" height="36.16" fill="#d56014"/>
<rect x="355.95" y="586.27" width="46.05" height="36.16" fill="#d76414"/>
<rect x="401.40" y="586.27" width="46.05" height="36.16" fill="#d76414"/>
<rect x="446.85" y="586.27" width="46.05" height="36.16" fill="#d45c15"/>
<rect x="492.30" y="586.27" width="46.05" height="36.16" fill="#d25815"/>
<rect x="537.76" y="586.27" width="46.05" height="36.16" fill="#d15416"/>
<rect x="583.21" y="586.27" width="46.05" height="36.16" fill="#d15416"/>
<rect x="628.66" y="586.27" width="46.05" height="36.16" fill="#d15416"/>
<rect x="674.11" y="586.27" width="46.05" height="36.16" fill="#d45c15"/>
<rect x="719.56" y="586.27" width="46.05" height="36.16" fill="#d45c15"/>
<rect x="765.01" y="586.27" width="46.05" height="36.16" fill="#d66214"/>
<rect x="810.46" y="586.27" width="46.05" height="36.16" fill="#d76414"/>
<rect x="855.91" y="586.27" width="46.05" height="36.16" fill="#d56014"/>
<rect x="901.37" y="586.27" width="46.05" height="36.16" fill="#d25815"/>
<rect x="946.82" y="586.27" width="46.05" height="36.16" fill="#d56014"/>
<rect x="992.27" y="586.27" width="46.05" height="36.16" fill="#d76414"/>
<rect x="1037.72" y="586.27" width="46.05" height="36.16" fill="#db7317"/>
<rect x="1083.17" y="586.27" width="46.05" height="36.16" fill="#e08b23"/>
<rect x="1128.62" y="586.27" width="46.05" height="36.16" fill="#e3b04b"/>
<rect x="1174.07" y="586.27" width="46.05" height="36.16" fill="#e7d599"/>
<rect x="1219.52" y="586.27" width="46.05" height="36.16" fill="#ede5c5"/>
<rect x="1264.98" y="586.27" width="46.05" height="36.16" fill="#e9daa9"/>
<rect x="1310.43" y="586.27" width="46.05" height="36.16" fill="#e3ba5c"/>
<rect x="1355.88" y="586.27" width="46.05" height="36.16" fill="#e1992d"/>
<rect x="1401.33" y="586.27" width="46.05" height="36.16" fill="#de801c"/>
<rect x="1446.78" y="586.27" width="46.05" height="36.16" fill="#d56014"/>
<rect x="1492.23" y="586.27" width="46.05" height="36.16" fill="#cf5016"/>
<rect x="1537.68" y="586.27" width="46.05" height="36.16" fill="#c7451c"/>
<rect x="1583.13" y="586.27" width="46.05" height="36.16" fill="#c9481b"/>
<rect x="1628.59" y="586.27" width="46.05" height="36.16" fill="#cb4a19"/>
<rect x="1674.04" y="586.27" width="46.05" height="36.16" fill="#d15416"/>
<rect x="1719.49" y="586.27" width="46.05" height="36.16" fill="#d25815"/>
<rect x="1764.94" y="586.27" width="46.05" height="36.16" fill="#d25815"/>
<rect x="1810.39" y="586.27" width="46.05" height="36.16" fill="#d45c15"/>
<rect x="1855.84" y="586.27" width="46.05" height="36.16" fill="#d56014"/>
<rect x="1901.29" y="586.27" width="46.05" height="36.16" fill="#d86915"/>
<rect x="1946.74" y="586.27" width="46.05" height="36.16" fill="#da6e16"/>
<rect x="1992.20" y="586.27" width="46.05" height="36.16" fill="#da6e16"/>
<rect x="2037.65" y="586.27" width="46.05" height="36.16" fill="#da6e16"/>
<rect x="2083.10" y="586.27" width="46.05" height="36.16" fill="#d86915"/>
<rect x="2128.55" y="586.27" width="46.05" height="36.16" fill="#d45c15"/>
<rect x="310.50" y="621.82" width="46.05" height="36.16" fill="#d15416"/>
<rect x="355.95" y="621.82" width="46.05" height="36.16" fill="#d25815"/>
<rect x="401.40" y="621.82" width="46.05" height="36.16" fill="#d25815"/>
<rect x="446.85" y="621.82" width="46.05" height="36.16" fill="#d15416"/>
<rect x="492.30" y="621.82" width="46.05" height="36.16" fill="#cf5016"/>
<rect x="537.76" y="621.82" width="46.05" height="36.16" fill="#cd4d18"/>
<rect x="583.21" y="621.82" width="46.05" height="36.16" fill="#cb4a19"/>
<rect x="628.66" y="621.82" width="46.05" height="36.16" fill="#d15416"/>
<rect x="674.11" y="621.82" width="46.05" height="36.16" fill="#d45c15"/>
<rect x="719.56" y="621.82" width="46.05" height="36.16" fill="#d86915"/>
<rect x="765.01" y="621.82" width="46.05" height="36.16" fill="#db7317"/>
<rect x="810.46" y="621.82" width="46.05" height="36.16" fill="#d86915"/>
<rect x="855.91" y="621.82" width="46.05" height="36.16" fill="#d76414"/>
<rect x="901.37" y="621.82" width="46.05" height="36.16" fill="#d25815"/>
<rect x="946.82" y="621.82" width="46.05" height="36.16" fill="#cf5016"/>
<rect x="992.27" y="621.82" width="46.05" height="36.16" fill="#d45c15"/>
<rect x="1037.72" y="621.82" width="46.05" height="36.16" fill="#db7317"/>
<rect x="1083.17" y="621.82" width="46.05" height="36.16" fill="#e08f26"/>
<rect x="1128.62" y="621.82" width="46.05" height="36.16" fill="#e3b04b"/>
<rect x="1174.07" y="621.82" width="46.05" height="36.16" fill="#e6d291"/>
<rect x="1219.52" y="621.82" width="46.05" height="36.16" fill="#ede5c5"/>
<rect x="1264.98" y="621.82" width="46.05" height="36.16" fill="#e7d599"/>
<rect x="1310.43" y="621.82" width="46.05" height="36.16" fill="#e3b758"/>
<rect x="1355.88" y="621.82" width="46.05" height="36.16" fill="#e1992d"/>
<rect x="1401.33" y="621.82" width="46.05" height="36.16" fill="#de801c"/>
<rect x="1446.78" y="621.82" width="46.05" height="36.16" fill="#d56014"/>
<rect x="1492.23" y="621.82" width="46.05" height="36.16" fill="#d15416"/>
<rect x="1537.68" y="621.82" width="46.05" height="36.16" fill="#d45c15"/>
<rect x="1583.13" y="621.82" width="46.05" height="36.16" fill="#d56014"/>
<rect x="1628.59" y="621.82" width="46.05" height="36.16" fill="#db7317"/>
<rect x="1674.04" y="621.82" width="46.05" height="36.16" fill="#de7d19"/>
<rect x="1719.49" y="621.82" width="46.05" height="36.16" fill="#de7d19"/>
<rect x="1764.94" y="621.82" width="46.05" height="36.16" fill="#db7317"/>
<rect x="1810.39" y="621.82" width="46.05" height="36.16" fill="#d86915"/>
<rect x="1855.84" y="621.82" width="46.05" height="36.16" fill="#d45c15"/>
<rect x="1901.29" y="621.82" width="46.05" height="36.16" fill="#d15416"/>
<rect x="1946.74" y="621.82" width="46.05" height="36.16" fill="#d15416"/>
<rect x="1992.20" y="621.82" width="46.05" height="36.16" fill="#d15416"/>
<rect x="2037.65" y="621.82" width="46.05" height="36.16" fill="#d15416"/>
<rect x="2083.10" y="621.82" width="46.05" height="36.16" fill="#d15416"/>
<rect x="2128.55" y="621.82" width="46.05" height="36.16" fill="#cb4a19"/>
<rect x="310.50" y="657.38" width="46.05" height="36.16" fill="#d25815"/>
<rect x="355.95" y="657.38" width="46.05" height="36.16" fill="#d25815"/>
<rect x="401.40" y="657.38" width="46.05" height="36.16" fill="#d25815"/>
<rect x="446.85" y="657.38" width="46.05" height="36.16" fill="#d25815"/>
<rect x="492.30" y="657.38" width="46.05" height="36.16" fill="#d25815"/>
<rect x="537.76" y="657.38" width="46.05" height="36.16" fill="#d45c15"/>
<rect x="583.21" y="657.38" width="46.05" height="36.16" fill="#d56014"/>
<rect x="628.66" y="657.38" width="46.05" height="36.16" fill="#d86915"/>
<rect x="674.11" y="657.38" width="46.05" height="36.16" fill="#db7317"/>
<rect x="719.56" y="657.38" width="46.05" height="36.16" fill="#dd7818"/>
<rect x="765.01" y="657.38" width="46.05" height="36.16" fill="#de7d19"/>
<rect x="810.46" y="657.38" width="46.05" height="36.16" fill="#da6e16"/>
<rect x="855.91" y="657.38" width="46.05" height="36.16" fill="#d76414"/>
<rect x="901.37" y="657.38" width="46.05" height="36.16" fill="#d25815"/>
<rect x="946.82" y="657.38" width="46.05" height="36.16" fill="#cf5016"/>
<rect x="992.27" y="657.38" width="46.05" height="36.16" fill="#d56014"/>
<rect x="1037.72" y="657.38" width="46.05" height="36.16" fill="#db7317"/>
<rect x="1083.17" y="657.38" width="46.05" height="36.16" fill="#e08f26"/>
<rect x="1128.62" y="657.38" width="46.05" height="36.16" fill="#e3b24f"/>
<rect x="1174.07" y="657.38" width="46.05" height="36.16" fill="#e6d291"/>
<rect x="1219.52" y="657.38" width="46.05" height="36.16" fill="#ece2bf"/>
<rect x="1264.98" y="657.38" width="46.05" height="36.16" fill="#e7d599"/>
<rect x="1310.43" y="657.38" width="46.05" height="36.16" fill="#e3ba5c"/>
<rect x="1355.88" y="657.38" width="46.05" height="36.16" fill="#e29c30"/>
<rect x="1401.33" y="657.38" width="46.05" height="36.16" fill="#de801c"/>
<rect x="1446.78" y="657.38" width="46.05" height="36.16" fill="#d86915"/>
<rect x="1492.23" y="657.38" width="46.05" height="36.16" fill="#d25815"/>
<rect x="1537.68" y="657.38" width="46.05" height="36.16" fill="#d45c15"/>
<rect x="1583.13" y="657.38" width="46.05" height="36.16" fill="#d45c15"/>
<rect x="1628.59" y="657.38" width="46.05" height="36.16" fill="#d86915"/>
<rect x="1674.04" y="657.38" width="46.05" height="36.16" fill="#da6e16"/>
<rect x="1719.49" y="657.38" width="46.05" height="36.16" fill="#da6e16"/>
<rect x="1764.94" y="657.38" width="46.05" height="36.16" fill="#da6e16"/>
<rect x="1810.39" y="657.38" width="46.05" height="36.16" fill="#d76414"/>
<rect x="1855.84" y="657.38" width="46.05" height="36.16" fill="#d15416"/>
<rect x="1901.29" y="657.38" width="46.05" height="36.16" fill="#cf5016"/>
<rect x="1946.74" y="657.38" width="46.05" height="36.16" fill="#cb4a19"/>
<rect x="1992.20" y="657.38" width="46.05" height="36.16" fill="#cb4a19"/>
<rect x="2037.65" y="657.38" width="46.05" height="36.16" fill="#cf5016"/>
<rect x="2083.10" y="657.38" width="46.05" height="36.16" fill="#cf5016"/>
<rect x="2128.55" y="657.38" width="46.05" height="36.16" fill="#d15416"/>
<rect x="310.50" y="692.93" width="46.05" height="36.16" fill="#c03e21"/>
<rect x="355.95" y="692.93" width="46.05" height="36.16" fill="#cb4a19"/>
<rect x="401.40" y="692.93" width="46.05" height="36.16" fill="#cf5016"/>
<rect x="446.85" y="692.93" width="46.05" height="36.16" fill="#d25815"/>
<rect x="492.30" y="692.93" width="46.05" height="36.16" fill="#d76414"/>
<rect x="537.76" y="692.93" width="46.05" height="36.16" fill="#d76414"/>
<rect x="583.21" y="692.93" width="46.05" height="36.16" fill="#d76414"/>
<rect x="628.66" y="692.93" width="46.05" height="36.16" fill="#d76414"/>
<rect x="674.11" y="692.93" width="46.05" height="36.16" fill="#d86915"/>
<rect x="719.56" y="692.93" width="46.05" height="36.16" fill="#d76414"/>
<rect x="765.01" y="692.93" width="46.05" height="36.16" fill="#d45c15"/>
<rect x="810.46" y="692.93" width="46.05" height="36.16" fill="#d45c15"/>
<rect x="855.91" y="692.93" width="46.05" height="36.16" fill="#d45c15"/>
<rect x="901.37" y="692.93" width="46.05" height="36.16" fill="#d56014"/>
<rect x="946.82" y="692.93" width="46.05" height="36.16" fill="#d86915"/>
<rect x="992.27" y="692.93" width="46.05" height="36.16" fill="#de7d19"/>
<rect x="1037.72" y="692.93" width="46.05" height="36.16" fill="#e08b23"/>
<rect x="1083.17" y="692.93" width="46.05" height="36.16" fill="#e2a032"/>
<rect x="1128.62" y="692.93" width="46.05" height="36.16" fill="#e3b554"/>
<rect x="1174.07" y="692.93" width="46.05" height="36.16" fill="#e6d291"/>
<rect x="1219.52" y="692.93" width="46.05" height="36.16" fill="#eaddb1"/>
<rect x="1264.98" y="692.93" width="46.05" height="36.16" fill="#e7d599"/>
<rect x="1310.43" y="692.93" width="46.05" height="36.16" fill="#e4c471"/>
<rect x="1355.88" y="692.93" width="46.05" height="36.16" fill="#e2aa43"/>
<rect x="1401.33" y="692.93" width="46.05" height="36.16" fill="#e1962b"/>
<rect x="1446.78" y="692.93" width="46.05" height="36.16" fill="#de7d19"/>
<rect x="1492.23" y="692.93" width="46.05" height="36.16" fill="#d86915"/>
<rect x="1537.68" y="692.93" width="46.05" height="36.16" fill="#d15416"/>
<rect x="1583.13" y="692.93" width="46.05" height="36.16" fill="#c9481b"/>
<rect x="1628.59" y="692.93" width="46.05" height="36.16" fill="#c34020"/>
<rect x="1674.04" y="692.93" width="46.05" height="36.16" fill="#c03e21"/>
<rect x="1719.49" y="692.93" width="46.05" height="36.16" fill="#bb3a24"/>
<rect x="1764.94" y="692.93" width="46.05" height="36.16" fill="#bb3a24"/>
<rect x="1810.39" y="692.93" width="46.05" height="36.16" fill="#bb3a24"/>
<rect x="1855.84" y="692.93" width="46.05" height="36.16" fill="#bb3a24"/>
<rect x="1901.29" y="692.93" width="46.05" height="36.16" fill="#bb3a24"/>
<rect x="1946.74" y="692.93" width="46.05" height="36.16" fill="#bb3a24"/>
<rect x="1992.20" y="692.93" width="46.05" height="36.16" fill="#bb3a24"/>
<rect x="2037.65" y="692.93" width="46.05" height="36.16" fill="#bb3a24"/>
<rect x="2083.10" y="692.93" width="46.05" height="36.16" fill="#c03e21"/>
<rect x="2128.55" y="692.93" width="46.05" height="36.16" fill="#c34020"/>
<rect x="310.50" y="728.49" width="46.05" height="36.16" fill="#8a2440"/>
<rect x="355.95" y="728.49" width="46.05" height="36.16" fill="#8e263e"/>
<rect x="401.40" y="728.49" width="46.05" height="36.16" fill="#9a2a36"/>
<rect x="446.85" y="728.49" width="46.05" height="36.16" fill="#a72f2e"/>
<rect x="492.30" y="728.49" width="46.05" height="36.16" fill="#ab312c"/>
<rect x="537.76" y="728.49" width="46.05" height="36.16" fill="#b0342a"/>
<rect x="583.21" y="728.49" width="46.05" height="36.16" fill="#b93826"/>
<rect x="628.66" y="728.49" width="46.05" height="36.16" fill="#bb3a24"/>
<rect x="674.11" y="728.49" width="46.05" height="36.16" fill="#c03e21"/>
<rect x="719.56" y="728.49" width="46.05" height="36.16" fill="#c34020"/>
<rect x="765.01" y="728.49" width="46.05" height="36.16" fill="#c5421e"/>
<rect x="810.46" y="728.49" width="46.05" height="36.16" fill="#c9481b"/>
<rect x="855.91" y="728.49" width="46.05" height="36.16" fill="#d15416"/>
<rect x="901.37" y="728.49" width="46.05" height="36.16" fill="#d25815"/>
<rect x="946.82" y="728.49" width="46.05" height="36.16" fill="#da6e16"/>
<rect x="992.27" y="728.49" width="46.05" height="36.16" fill="#de7d19"/>
<rect x="1037.72" y="728.49" width="46.05" height="36.16" fill="#e08f26"/>
<rect x="1083.17" y="728.49" width="46.05" height="36.16" fill="#e2a83f"/>
<rect x="1128.62" y="728.49" width="46.05" height="36.16" fill="#e4c471"/>
<rect x="1174.07" y="728.49" width="46.05" height="36.16" fill="#e6d291"/>
<rect x="1219.52" y="728.49" width="46.05" height="36.16" fill="#eaddb1"/>
<rect x="1264.98" y="728.49" width="46.05" height="36.16" fill="#e7d599"/>
<rect x="1310.43" y="728.49" width="46.05" height="36.16" fill="#e5c87c"/>
<rect x="1355.88" y="728.49" width="46.05" height="36.16" fill="#e2aa43"/>
<rect x="1401.33" y="728.49" width="46.05" height="36.16" fill="#e1992d"/>
<rect x="1446.78" y="728.49" width="46.05" height="36.16" fill="#de7d19"/>
<rect x="1492.23" y="728.49" width="46.05" height="36.16" fill="#d86915"/>
<rect x="1537.68" y="728.49" width="46.05" height="36.16" fill="#cf5016"/>
<rect x="1583.13" y="728.49" width="46.05" height="36.16" fill="#c03e21"/>
<rect x="1628.59" y="728.49" width="46.05" height="36.16" fill="#ab312c"/>
<rect x="1674.04" y="728.49" width="46.05" height="36.16" fill="#9e2c33"/>
<rect x="1719.49" y="728.49" width="46.05" height="36.16" fill="#92273b"/>
<rect x="1764.94" y="728.49" width="46.05" height="36.16" fill="#8e263e"/>
<rect x="1810.39" y="728.49" width="46.05" height="36.16" fill="#8a2440"/>
<rect x="1855.84" y="728.49" width="46.05" height="36.16" fill="#8a2440"/>
<rect x="1901.29" y="728.49" width="46.05" height="36.16" fill="#8e263e"/>
<rect x="1946.74" y="728.49" width="46.05" height="36.16" fill="#8e263e"/>
<rect x="1992.20" y="728.49" width="46.05" height="36.16" fill="#8e263e"/>
<rect x="2037.65" y="728.49" width="46.05" height="36.16" fill="#8e263e"/>
<rect x="2083.10" y="728.49" width="46.05" height="36.16" fill="#8e263e"/>
<rect x="2128.55" y="728.49" width="46.05" height="36.16" fill="#8a2440"/>
<rect x="310.50" y="764.04" width="46.05" height="36.16" fill="#6e1c4b"/>
<rect x="355.95" y="764.04" width="46.05" height="36.16" fill="#751d4a"/>
<rect x="401.40" y="764.04" width="46.05" height="36.16" fill="#7e2048"/>
<rect x="446.85" y="764.04" width="46.05" height="36.16" fill="#8a2440"/>
<rect x="492.30" y="764.04" width="46.05" height="36.16" fill="#92273b"/>
<rect x="537.76" y="764.04" width="46.05" height="36.16" fill="#9a2a36"/>
<rect x="583.21" y="764.04" width="46.05" height="36.16" fill="#a22d30"/>
<rect x="628.66" y="764.04" width="46.05" height="36.16" fill="#a72f2e"/>
<rect x="674.11" y="764.04" width="46.05" height="36.16" fill="#b0342a"/>
<rect x="719.56" y="764.04" width="46.05" height="36.16" fill="#b93826"/>
<rect x="765.01" y="764.04" width="46.05" height="36.16" fill="#c34020"/>
<rect x="810.46" y="764.04" width="46.05" height="36.16" fill="#cb4a19"/>
<rect x="855.91" y="764.04" width="46.05" height="36.16" fill="#d45c15"/>
<rect x="901.37" y="764.04" width="46.05" height="36.16" fill="#d86915"/>
<rect x="946.82" y="764.04" width="46.05" height="36.16" fill="#de7d19"/>
<rect x="992.27" y="764.04" width="46.05" height="36.16" fill="#e08f26"/>
<rect x="1037.72" y="764.04" width="46.05" height="36.16" fill="#e2a336"/>
<rect x="1083.17" y="764.04" width="46.05" height="36.16" fill="#e3b554"/>
<rect x="1128.62" y="764.04" width="46.05" height="36.16" fill="#e6d291"/>
<rect x="1174.07" y="764.04" width="46.05" height="36.16" fill="#e9daa9"/>
<rect x="1219.52" y="764.04" width="46.05" height="36.16" fill="#ece2bf"/>
<rect x="1264.98" y="764.04" width="46.05" height="36.16" fill="#eaddb1"/>
<rect x="1310.43" y="764.04" width="46.05" height="36.16" fill="#e9daa9"/>
<rect x="1355.88" y="764.04" width="46.05" height="36.16" fill="#e4c471"/>
<rect x="1401.33" y="764.04" width="46.05" height="36.16" fill="#e3b04b"/>
<rect x="1446.78" y="764.04" width="46.05" height="36.16" fill="#e29c30"/>
<rect x="1492.23" y="764.04" width="46.05" height="36.16" fill="#e08b23"/>
<rect x="1537.68" y="764.04" width="46.05" height="36.16" fill="#dd7818"/>
<rect x="1583.13" y="764.04" width="46.05" height="36.16" fill="#d56014"/>
<rect x="1628.59" y="764.04" width="46.05" height="36.16" fill="#cf5016"/>
<rect x="1674.04" y="764.04" width="46.05" height="36.16" fill="#c34020"/>
<rect x="1719.49" y="764.04" width="46.05" height="36.16" fill="#bb3a24"/>
<rect x="1764.94" y="764.04" width="46.05" height="36.16" fill="#b0342a"/>
<rect x="1810.39" y="764.04" width="46.05" height="36.16" fill="#9e2c33"/>
<rect x="1855.84" y="764.04" width="46.05" height="36.16" fill="#92273b"/>
<rect x="1901.29" y="764.04" width="46.05" height="36.16" fill="#8a2440"/>
<rect x="1946.74" y="764.04" width="46.05" height="36.16" fill="#7e2048"/>
<rect x="1992.20" y="764.04" width="46.05" height="36.16" fill="#7a1e4a"/>
<rect x="2037.65" y="764.04" width="46.05" height="36.16" fill="#6c1b4b"/>
<rect x="2083.10" y="764.04" width="46.05" height="36.16" fill="#6c1b4b"/>
<rect x="2128.55" y="764.04" width="46.05" height="36.16" fill="#671a4c"/>
<rect x="310.50" y="799.60" width="46.05" height="36.16" fill="#62194c"/>
<rect x="355.95" y="799.60" width="46.05" height="36.16" fill="#701c4b"/>
<rect x="401.40" y="799.60" width="46.05" height="36.16" fill="#7a1e4a"/>
<rect x="446.85" y="799.60" width="46.05" height="36.16" fill="#7e2048"/>
<rect x="492.30" y="799.60" width="46.05" height="36.16" fill="#862343"/>
<rect x="537.76" y="799.60" width="46.05" height="36.16" fill="#92273b"/>
<rect x="583.21" y="799.60" width="46.05" height="36.16" fill="#9a2a36"/>
<rect x="628.66" y="799.60" width="46.05" height="36.16" fill="#a22d30"/>
<rect x="674.11" y="799.60" width="46.05" height="36.16" fill="#b0342a"/>
<rect x="719.56" y="799.60" width="46.05" height="36.16" fill="#bb3a24"/>
<rect x="765.01" y="799.60" width="46.05" height="36.16" fill="#c7451c"/>
<rect x="810.46" y="799.60" width="46.05" height="36.16" fill="#cf5016"/>
<rect x="855.91" y="799.60" width="46.05" height="36.16" fill="#da6e16"/>
<rect x="901.37" y="799.60" width="46.05" height="36.16" fill="#de7d19"/>
<rect x="946.82" y="799.60" width="46.05" height="36.16" fill="#e08b23"/>
<rect x="992.27" y="799.60" width="46.05" height="36.16" fill="#e2a53a"/>
<rect x="1037.72" y="799.60" width="46.05" height="36.16" fill="#e3b758"/>
<rect x="1083.17" y="799.60" width="46.05" height="36.16" fill="#e6d291"/>
<rect x="1128.62" y="799.60" width="46.05" height="36.16" fill="#ebe0b9"/>
<rect x="1174.07" y="799.60" width="46.05" height="36.16" fill="#efead1"/>
<rect x="1219.52" y="799.60" width="46.05" height="36.16" fill="#f1eddc"/>
<rect x="1264.98" y="799.60" width="46.05" height="36.16" fill="#efead1"/>
<rect x="1310.43" y="799.60" width="46.05" height="36.16" fill="#ece2bf"/>
<rect x="1355.88" y="799.60" width="46.05" height="36.16" fill="#e6d291"/>
<rect x="1401.33" y="799.60" width="46.05" height="36.16" fill="#e3ba5c"/>
<rect x="1446.78" y="799.60" width="46.05" height="36.16" fill="#e2aa43"/>
<rect x="1492.23" y="799.60" width="46.05" height="36.16" fill="#e29c30"/>
<rect x="1537.68" y="799.60" width="46.05" height="36.16" fill="#df8821"/>
<rect x="1583.13" y="799.60" width="46.05" height="36.16" fill="#db7317"/>
<rect x="1628.59" y="799.60" width="46.05" height="36.16" fill="#d56014"/>
<rect x="1674.04" y="799.60" width="46.05" height="36.16" fill="#cb4a19"/>
<rect x="1719.49" y="799.60" width="46.05" height="36.16" fill="#c34020"/>
<rect x="1764.94" y="799.60" width="46.05" height="36.16" fill="#b0342a"/>
<rect x="1810.39" y="799.60" width="46.05" height="36.16" fill="#9e2c33"/>
<rect x="1855.84" y="799.60" width="46.05" height="36.16" fill="#8a2440"/>
<rect x="1901.29" y="799.60" width="46.05" height="36.16" fill="#822145"/>
<rect x="1946.74" y="799.60" width="46.05" height="36.16" fill="#751d4a"/>
<rect x="1992.20" y="799.60" width="46.05" height="36.16" fill="#671a4c"/>
<rect x="2037.65" y="799.60" width="46.05" height="36.16" fill="#5d184b"/>
<rect x="2083.10" y="799.60" width="46.05" height="36.16" fill="#52164a"/>
<rect x="2128.55" y="799.60" width="46.05" height="36.16" fill="#481448"/>
<rect x="310.50" y="835.16" width="46.05" height="36.16" fill="#751d4a"/>
<rect x="355.95" y="835.16" width="46.05" height="36.16" fill="#7a1e4a"/>
<rect x="401.40" y="835.16" width="46.05" height="36.16" fill="#7a1e4a"/>
<rect x="446.85" y="835.16" width="46.05" height="36.16" fill="#7e2048"/>
<rect x="492.30" y="835.16" width="46.05" height="36.16" fill="#862343"/>
<rect x="537.76" y="835.16" width="46.05" height="36.16" fill="#8e263e"/>
<rect x="583.21" y="835.16" width="46.05" height="36.16" fill="#962938"/>
<rect x="628.66" y="835.16" width="46.05" height="36.16" fill="#9e2c33"/>
<rect x="674.11" y="835.16" width="46.05" height="36.16" fill="#a72f2e"/>
<rect x="719.56" y="835.16" width="46.05" height="36.16" fill="#b0342a"/>
<rect x="765.01" y="835.16" width="46.05" height="36.16" fill="#c34020"/>
<rect x="810.46" y="835.16" width="46.05" height="36.16" fill="#cf5016"/>
<rect x="855.91" y="835.16" width="46.05" height="36.16" fill="#da6e16"/>
<rect x="901.37" y="835.16" width="46.05" height="36.16" fill="#de801c"/>
<rect x="946.82" y="835.16" width="46.05" height="36.16" fill="#e08f26"/>
<rect x="992.27" y="835.16" width="46.05" height="36.16" fill="#e2a53a"/>
<rect x="1037.72" y="835.16" width="46.05" height="36.16" fill="#e3b758"/>
<rect x="1083.17" y="835.16" width="46.05" height="36.16" fill="#e8d8a1"/>
<rect x="1128.62" y="835.16" width="46.05" height="36.16" fill="#ede5c5"/>
<rect x="1174.07" y="835.16" width="46.05" height="36.16" fill="#f0ecd7"/>
<rect x="1219.52" y="835.16" width="46.05" height="36.16" fill="#f2f1e9"/>
<rect x="1264.98" y="835.16" width="46.05" height="36.16" fill="#f0ecd7"/>
<rect x="1310.43" y="835.16" width="46.05" height="36.16" fill="#eee7cb"/>
<rect x="1355.88" y="835.16" width="46.05" height="36.16" fill="#e8d8a1"/>
<rect x="1401.33" y="835.16" width="46.05" height="36.16" fill="#e5c87c"/>
<rect x="1446.78" y="835.16" width="46.05" height="36.16" fill="#e3b04b"/>
<rect x="1492.23" y="835.16" width="46.05" height="36.16" fill="#e2a032"/>
<rect x="1537.68" y="835.16" width="46.05" height="36.16" fill="#e08b23"/>
<rect x="1583.13" y="835.16" width="46.05" height="36.16" fill="#db7317"/>
<rect x="1628.59" y="835.16" width="46.05" height="36.16" fill="#d56014"/>
<rect x="1674.04" y="835.16" width="46.05" height="36.16" fill="#cb4a19"/>
<rect x="1719.49" y="835.16" width="46.05" height="36.16" fill="#be3c23"/>
<rect x="1764.94" y="835.16" width="46.05" height="36.16" fill="#a72f2e"/>
<rect x="1810.39" y="835.16" width="46.05" height="36.16" fill="#962938"/>
<rect x="1855.84" y="835.16" width="46.05" height="36.16" fill="#8a2440"/>
<rect x="1901.29" y="835.16" width="46.05" height="36.16" fill="#822145"/>
<rect x="1946.74" y="835.16" width="46.05" height="36.16" fill="#751d4a"/>
<rect x="1992.20" y="835.16" width="46.05" height="36.16" fill="#6c1b4b"/>
<rect x="2037.65" y="835.16" width="46.05" height="36.16" fill="#62194c"/>
<rect x="2083.10" y="835.16" width="46.05" height="36.16" fill="#5d184b"/>
<rect x="2128.55" y="835.16" width="46.05" height="36.16" fill="#58174a"/>
<rect x="310.50" y="870.71" width="46.05" height="36.16" fill="#9a2a36"/>
<rect x="355.95" y="870.71" width="46.05" height="36.16" fill="#9e2c33"/>
<rect x="401.40" y="870.71" width="46.05" height="36.16" fill="#a22d30"/>
<rect x="446.85" y="870.71" width="46.05" height="36.16" fill="#a22d30"/>
<rect x="492.30" y="870.71" width="46.05" height="36.16" fill="#ab312c"/>
<rect x="537.76" y="870.71" width="46.05" height="36.16" fill="#b0342a"/>
<rect x="583.21" y="870.71" width="46.05" height="36.16" fill="#b93826"/>
<rect x="628.66" y="870.71" width="46.05" height="36.16" fill="#c03e21"/>
<rect x="674.11" y="870.71" width="46.05" height="36.16" fill="#c7451c"/>
<rect x="719.56" y="870.71" width="46.05" height="36.16" fill="#cd4d18"/>
<rect x="765.01" y="870.71" width="46.05" height="36.16" fill="#d15416"/>
<rect x="810.46" y="870.71" width="46.05" height="36.16" fill="#da6e16"/>
<rect x="855.91" y="870.71" width="46.05" height="36.16" fill="#df841e"/>
<rect x="901.37" y="870.71" width="46.05" height="36.16" fill="#e1962b"/>
<rect x="946.82" y="870.71" width="46.05" height="36.16" fill="#e2a032"/>
<rect x="992.27" y="870.71" width="46.05" height="36.16" fill="#e3b04b"/>
<rect x="1037.72" y="870.71" width="46.05" height="36.16" fill="#e4bf67"/>
<rect x="1083.17" y="870.71" width="46.05" height="36.16" fill="#e9daa9"/>
<rect x="1128.62" y="870.71" width="46.05" height="36.16" fill="#eee7cb"/>
<rect x="1174.07" y="870.71" width="46.05" height="36.16" fill="#eee7cb"/>
<rect x="1219.52" y="870.71" width="46.05" height="36.16" fill="#eee7cb"/>
<rect x="1264.98" y="870.71" width="46.05" height="36.16" fill="#eee7cb"/>
<rect x="1310.43" y="870.71" width="46.05" height="36.16" fill="#f0ecd7"/>
<rect x="1355.88" y="870.71" width="46.05" height="36.16" fill="#e9daa9"/>
<rect x="1401.33" y="870.71" width="46.05" height="36.16" fill="#e5c87c"/>
<rect x="1446.78" y="870.71" width="46.05" height="36.16" fill="#e3b24f"/>
<rect x="1492.23" y="870.71" width="46.05" height="36.16" fill="#e2a53a"/>
<rect x="1537.68" y="870.71" width="46.05" height="36.16" fill="#e1962b"/>
<rect x="1583.13" y="870.71" width="46.05" height="36.16" fill="#e08b23"/>
<rect x="1628.59" y="870.71" width="46.05" height="36.16" fill="#db7317"/>
<rect x="1674.04" y="870.71" width="46.05" height="36.16" fill="#d45c15"/>
<rect x="1719.49" y="870.71" width="46.05" height="36.16" fill="#cd4d18"/>
<rect x="1764.94" y="870.71" width="46.05" height="36.16" fill="#c34020"/>
<rect x="1810.39" y="870.71" width="46.05" height="36.16" fill="#b43628"/>
<rect x="1855.84" y="870.71" width="46.05" height="36.16" fill="#a72f2e"/>
<rect x="1901.29" y="870.71" width="46.05" height="36.16" fill="#9e2c33"/>
<rect x="1946.74" y="870.71" width="46.05" height="36.16" fill="#9a2a36"/>
<rect x="1992.20" y="870.71" width="46.05" height="36.16" fill="#92273b"/>
<rect x="2037.65" y="870.71" width="46.05" height="36.16" fill="#8a2440"/>
<rect x="2083.10" y="870.71" width="46.05" height="36.16" fill="#8a2440"/>
<rect x="2128.55" y="870.71" width="46.05" height="36.16" fill="#862343"/>
<rect x="310.50" y="906.27" width="46.05" height="36.16" fill="#be3c23"/>
<rect x="355.95" y="906.27" width="46.05" height="36.16" fill="#be3c23"/>
<rect x="401.40" y="906.27" width="46.05" height="36.16" fill="#be3c23"/>
<rect x="446.85" y="906.27" width="46.05" height="36.16" fill="#c03e21"/>
<rect x="492.30" y="906.27" width="46.05" height="36.16" fill="#c34020"/>
<rect x="537.76" y="906.27" width="46.05" height="36.16" fill="#c5421e"/>
<rect x="583.21" y="906.27" width="46.05" height="36.16" fill="#c7451c"/>
<rect x="628.66" y="906.27" width="46.05" height="36.16" fill="#c9481b"/>
<rect x="674.11" y="906.27" width="46.05" height="36.16" fill="#cf5016"/>
<rect x="719.56" y="906.27" width="46.05" height="36.16" fill="#d25815"/>
<rect x="765.01" y="906.27" width="46.05" height="36.16" fill="#d45c15"/>
<rect x="810.46" y="906.27" width="46.05" height="36.16" fill="#dd7818"/>
<rect x="855.91" y="906.27" width="46.05" height="36.16" fill="#e08b23"/>
<rect x="901.37" y="906.27" width="46.05" height="36.16" fill="#e2a032"/>
<rect x="946.82" y="906.27" width="46.05" height="36.16" fill="#e2a032"/>
<rect x="992.27" y="906.27" width="46.05" height="36.16" fill="#e3b24f"/>
<rect x="1037.72" y="906.27" width="46.05" height="36.16" fill="#e4c471"/>
<rect x="1083.17" y="906.27" width="46.05" height="36.16" fill="#e9daa9"/>
<rect x="1128.62" y="906.27" width="46.05" height="36.16" fill="#ede5c5"/>
<rect x="1174.07" y="906.27" width="46.05" height="36.16" fill="#ece2bf"/>
<rect x="1219.52" y="906.27" width="46.05" height="36.16" fill="#eee7cb"/>
<rect x="1264.98" y="906.27" width="46.05" height="36.16" fill="#eee7cb"/>
<rect x="1310.43" y="906.27" width="46.05" height="36.16" fill="#eee7cb"/>
<rect x="1355.88" y="906.27" width="46.05" height="36.16" fill="#e8d8a1"/>
<rect x="1401.33" y="906.27" width="46.05" height="36.16" fill="#e5c87c"/>
<rect x="1446.78" y="906.27" width="46.05" height="36.16" fill="#e3b24f"/>
<rect x="1492.23" y="906.27" width="46.05" height="36.16" fill="#e2a53a"/>
<rect x="1537.68" y="906.27" width="46.05" height="36.16" fill="#e1962b"/>
<rect x="1583.13" y="906.27" width="46.05" height="36.16" fill="#e08b23"/>
<rect x="1628.59" y="906.27" width="46.05" height="36.16" fill="#de7d19"/>
<rect x="1674.04" y="906.27" width="46.05" height="36.16" fill="#d45c15"/>
<rect x="1719.49" y="906.27" width="46.05" height="36.16" fill="#cf5016"/>
<rect x="1764.94" y="906.27" width="46.05" height="36.16" fill="#c5421e"/>
<rect x="1810.39" y="906.27" width="46.05" height="36.16" fill="#bb3a24"/>
<rect x="1855.84" y="906.27" width="46.05" height="36.16" fill="#ab312c"/>
<rect x="1901.29" y="906.27" width="46.05" height="36.16" fill="#a22d30"/>
<rect x="1946.74" y="906.27" width="46.05" height="36.16" fill="#9e2c33"/>
<rect x="1992.20" y="906.27" width="46.05" height="36.16" fill="#962938"/>
<rect x="2037.65" y="906.27" width="46.05" height="36.16" fill="#92273b"/>
<rect x="2083.10" y="906.27" width="46.05" height="36.16" fill="#962938"/>
<rect x="2128.55" y="906.27" width="46.05" height="36.16" fill="#9a2a36"/>
<rect x="310.50" y="941.82" width="46.05" height="36.16" fill="#c5421e"/>
<rect x="355.95" y="941.82" width="46.05" height="36.16" fill="#bb3a24"/>
<rect x="401.40" y="941.82" width="46.05" height="36.16" fill="#b43628"/>
<rect x="446.85" y="941.82" width="46.05" height="36.16" fill="#b43628"/>
<rect x="492.30" y="941.82" width="46.05" height="36.16" fill="#b43628"/>
<rect x="537.76" y="941.82" width="46.05" height="36.16" fill="#b43628"/>
<rect x="583.21" y="941.82" width="46.05" height="36.16" fill="#b0342a"/>
<rect x="628.66" y="941.82" width="46.05" height="36.16" fill="#bb3a24"/>
<rect x="674.11" y="941.82" width="46.05" height="36.16" fill="#c34020"/>
<rect x="719.56" y="941.82" width="46.05" height="36.16" fill="#cb4a19"/>
<rect x="765.01" y="941.82" width="46.05" height="36.16" fill="#cf5016"/>
<rect x="810.46" y="941.82" width="46.05" height="36.16" fill="#d86915"/>
<rect x="855.91" y="941.82" width="46.05" height="36.16" fill="#de7d19"/>
<rect x="901.37" y="941.82" width="46.05" height="36.16" fill="#e08b23"/>
<rect x="946.82" y="941.82" width="46.05" height="36.16" fill="#e1962b"/>
<rect x="992.27" y="941.82" width="46.05" height="36.16" fill="#e2a53a"/>
<rect x="1037.72" y="941.82" width="46.05" height="36.16" fill="#e3b554"/>
<rect x="1083.17" y="941.82" width="46.05" height="36.16" fill="#e5c87c"/>
<rect x="1128.62" y="941.82" width="46.05" height="36.16" fill="#eaddb1"/>
<rect x="1174.07" y="941.82" width="46.05" height="36.16" fill="#eaddb1"/>
<rect x="1219.52" y="941.82" width="46.05" height="36.16" fill="#eaddb1"/>
<rect x="1264.98" y="941.82" width="46.05" height="36.16" fill="#eaddb1"/>
<rect x="1310.43" y="941.82" width="46.05" height="36.16" fill="#eaddb1"/>
<rect x="1355.88" y="941.82" width="46.05" height="36.16" fill="#e5cd86"/>
<rect x="1401.33" y="941.82" width="46.05" height="36.16" fill="#e3b758"/>
<rect x="1446.78" y="941.82" width="46.05" height="36.16" fill="#e2aa43"/>
<rect x="1492.23" y="941.82" width="46.05" height="36.16" fill="#e29c30"/>
<rect x="1537.68" y="941.82" width="46.05" height="36.16" fill="#e08b23"/>
<rect x="1583.13" y="941.82" width="46.05" height="36.16" fill="#de7d19"/>
<rect x="1628.59" y="941.82" width="46.05" height="36.16" fill="#d86915"/>
<rect x="1674.04" y="941.82" width="46.05" height="36.16" fill="#cd4d18"/>
<rect x="1719.49" y="941.82" width="46.05" height="36.16" fill="#c34020"/>
<rect x="1764.94" y="941.82" width="46.05" height="36.16" fill="#b43628"/>
<rect x="1810.39" y="941.82" width="46.05" height="36.16" fill="#a22d30"/>
<rect x="1855.84" y="941.82" width="46.05" height="36.16" fill="#9a2a36"/>
<rect x="1901.29" y="941.82" width="46.05" height="36.16" fill="#92273b"/>
<rect x="1946.74" y="941.82" width="46.05" height="36.16" fill="#92273b"/>
<rect x="1992.20" y="941.82" width="46.05" height="36.16" fill="#8e263e"/>
<rect x="2037.65" y="941.82" width="46.05" height="36.16" fill="#8e263e"/>
<rect x="2083.10" y="941.82" width="46.05" height="36.16" fill="#962938"/>
<rect x="2128.55" y="941.82" width="46.05" height="36.16" fill="#9e2c33"/>
<rect x="310.50" y="977.38" width="46.05" height="36.16" fill="#b0342a"/>
<rect x="355.95" y="977.38" width="46.05" height="36.16" fill="#b43628"/>
<rect x="401.40" y="977.38" width="46.05" height="36.16" fill="#bb3a24"/>
<rect x="446.85" y="977.38" width="46.05" height="36.16" fill="#be3c23"/>
<rect x="492.30" y="977.38" width="46.05" height="36.16" fill="#c34020"/>
<rect x="537.76" y="977.38" width="46.05" height="36.16" fill="#c7451c"/>
<rect x="583.21" y="977.38" width="46.05" height="36.16" fill="#cb4a19"/>
<rect x="628.66" y="977.38" width="46.05" height="36.16" fill="#cf5016"/>
<rect x="674.11" y="977.38" width="46.05" height="36.16" fill="#d56014"/>
<rect x="719.56" y="977.38" width="46.05" height="36.16" fill="#da6e16"/>
<rect x="765.01" y="977.38" width="46.05" height="36.16" fill="#dd7818"/>
<rect x="810.46" y="977.38" width="46.05" height="36.16" fill="#df841e"/>
<rect x="855.91" y="977.38" width="46.05" height="36.16" fill="#e08f26"/>
<rect x="901.37" y="977.38" width="46.05" height="36.16" fill="#e2a336"/>
<rect x="946.82" y="977.38" width="46.05" height="36.16" fill="#e2a53a"/>
<rect x="992.27" y="977.38" width="46.05" height="36.16" fill="#e3b04b"/>
<rect x="1037.72" y="977.38" width="46.05" height="36.16" fill="#e3b758"/>
<rect x="1083.17" y="977.38" width="46.05" height="36.16" fill="#e4bf67"/>
<rect x="1128.62" y="977.38" width="46.05" height="36.16" fill="#e5cd86"/>
<rect x="1174.07" y="977.38" width="46.05" height="36.16" fill="#e5cd86"/>
<rect x="1219.52" y="977.38" width="46.05" height="36.16" fill="#e5cd86"/>
<rect x="1264.98" y="977.38" width="46.05" height="36.16" fill="#e5cd86"/>
<rect x="1310.43" y="977.38" width="46.05" height="36.16" fill="#e5cd86"/>
<rect x="1355.88" y="977.38" width="46.05" height="36.16" fill="#e3ba5c"/>
<rect x="1401.33" y="977.38" width="46.05" height="36.16" fill="#e3b24f"/>
<rect x="1446.78" y="977.38" width="46.05" height="36.16" fill="#e2a83f"/>
<rect x="1492.23" y="977.38" width="46.05" height="36.16" fill="#e2a336"/>
<rect x="1537.68" y="977.38" width="46.05" height="36.16" fill="#e1992d"/>
<rect x="1583.13" y="977.38" width="46.05" height="36.16" fill="#e1962b"/>
<rect x="1628.59" y="977.38" width="46.05" height="36.16" fill="#df841e"/>
<rect x="1674.04" y="977.38" width="46.05" height="36.16" fill="#db7317"/>
<rect x="1719.49" y="977.38" width="46.05" height="36.16" fill="#d86915"/>
<rect x="1764.94" y="977.38" width="46.05" height="36.16" fill="#d45c15"/>
<rect x="1810.39" y="977.38" width="46.05" height="36.16" fill="#cf5016"/>
<rect x="1855.84" y="977.38" width="46.05" height="36.16" fill="#cd4d18"/>
<rect x="1901.29" y="977.38" width="46.05" height="36.16" fill="#cb4a19"/>
<rect x="1946.74" y="977.38" width="46.05" height="36.16" fill="#c9481b"/>
<rect x="1992.20" y="977.38" width="46.05" height="36.16" fill="#c9481b"/>
<rect x="2037.65" y="977.38" width="46.05" height="36.16" fill="#c9481b"/>
<rect x="2083.10" y="977.38" width="46.05" height="36.16" fill="#c9481b"/>
<rect x="2128.55" y="977.38" width="46.05" height="36.16" fill="#c7451c"/>
<rect x="310.50" y="1012.93" width="46.05" height="36.16" fill="#a72f2e"/>
<rect x="355.95" y="1012.93" width="46.05" height="36.16" fill="#a72f2e"/>
<rect x="401.40" y="1012.93" width="46.05" height="36.16" fill="#a72f2e"/>
<rect x="446.85" y="1012.93" width="46.05" height="36.16" fill="#ab312c"/>
<rect x="492.30" y="1012.93" width="46.05" height="36.16" fill="#ab312c"/>
<rect x="537.76" y="1012.93" width="46.05" height="36.16" fill="#b0342a"/>
<rect x="583.21" y="1012.93" width="46.05" height="36.16" fill="#b43628"/>
<rect x="628.66" y="1012.93" width="46.05" height="36.16" fill="#b93826"/>
<rect x="674.11" y="1012.93" width="46.05" height="36.16" fill="#c5421e"/>
<rect x="719.56" y="1012.93" width="46.05" height="36.16" fill="#cb4a19"/>
<rect x="765.01" y="1012.93" width="46.05" height="36.16" fill="#d45c15"/>
<rect x="810.46" y="1012.93" width="46.05" height="36.16" fill="#da6e16"/>
<rect x="855.91" y="1012.93" width="46.05" height="36.16" fill="#de801c"/>
<rect x="901.37" y="1012.93" width="46.05" height="36.16" fill="#df8821"/>
<rect x="946.82" y="1012.93" width="46.05" height="36.16" fill="#e09228"/>
<rect x="992.27" y="1012.93" width="46.05" height="36.16" fill="#e29c30"/>
<rect x="1037.72" y="1012.93" width="46.05" height="36.16" fill="#e2aa43"/>
<rect x="1083.17" y="1012.93" width="46.05" height="36.16" fill="#e3ba5c"/>
<rect x="1128.62" y="1012.93" width="46.05" height="36.16" fill="#e7d599"/>
<rect x="1174.07" y="1012.93" width="46.05" height="36.16" fill="#e7d599"/>
<rect x="1219.52" y="1012.93" width="46.05" height="36.16" fill="#e8d8a1"/>
<rect x="1264.98" y="1012.93" width="46.05" height="36.16" fill="#e8d8a1"/>
<rect x="1310.43" y="1012.93" width="46.05" height="36.16" fill="#e8d8a1"/>
<rect x="1355.88" y="1012.93" width="46.05" height="36.16" fill="#e5c87c"/>
<rect x="1401.33" y="1012.93" width="46.05" height="36.16" fill="#e3b554"/>
<rect x="1446.78" y="1012.93" width="46.05" height="36.16" fill="#e2a83f"/>
<rect x="1492.23" y="1012.93" width="46.05" height="36.16" fill="#e29c30"/>
<rect x="1537.68" y="1012.93" width="46.05" height="36.16" fill="#e08f26"/>
<rect x="1583.13" y="1012.93" width="46.05" height="36.16" fill="#de801c"/>
<rect x="1628.59" y="1012.93" width="46.05" height="36.16" fill="#da6e16"/>
<rect x="1674.04" y="1012.93" width="46.05" height="36.16" fill="#d25815"/>
<rect x="1719.49" y="1012.93" width="46.05" height="36.16" fill="#cf5016"/>
<rect x="1764.94" y="1012.93" width="46.05" height="36.16" fill="#c5421e"/>
<rect x="1810.39" y="1012.93" width="46.05" height="36.16" fill="#bb3a24"/>
<rect x="1855.84" y="1012.93" width="46.05" height="36.16" fill="#b93826"/>
<rect x="1901.29" y="1012.93" width="46.05" height="36.16" fill="#b43628"/>
<rect x="1946.74" y="1012.93" width="46.05" height="36.16" fill="#b43628"/>
<rect x="1992.20" y="1012.93" width="46.05" height="36.16" fill="#b0342a"/>
<rect x="2037.65" y="1012.93" width="46.05" height="36.16" fill="#b43628"/>
<rect x="2083.10" y="1012.93" width="46.05" height="36.16" fill="#b43628"/>
<rect x="2128.55" y="1012.93" width="46.05" height="36.16" fill="#b93826"/>
<rect x="310.50" y="1048.49" width="46.05" height="36.16" fill="#d15416"/>
<rect x="355.95" y="1048.49" width="46.05" height="36.16" fill="#d45c15"/>
<rect x="401.40" y="1048.49" width="46.05" height="36.16" fill="#d56014"/>
<rect x="446.85" y="1048.49" width="46.05" height="36.16" fill="#d76414"/>
<rect x="492.30" y="1048.49" width="46.05" height="36.16" fill="#da6e16"/>
<rect x="537.76" y="1048.49" width="46.05" height="36.16" fill="#dd7818"/>
<rect x="583.21" y="1048.49" width="46.05" height="36.16" fill="#de7d19"/>
<rect x="628.66" y="1048.49" width="46.05" height="36.16" fill="#de801c"/>
<rect x="674.11" y="1048.49" width="46.05" height="36.16" fill="#df8821"/>
<rect x="719.56" y="1048.49" width="46.05" height="36.16" fill="#e09228"/>
<rect x="765.01" y="1048.49" width="46.05" height="36.16" fill="#e1992d"/>
<rect x="810.46" y="1048.49" width="46.05" height="36.16" fill="#e2a032"/>
<rect x="855.91" y="1048.49" width="46.05" height="36.16" fill="#e2aa43"/>
<rect x="901.37" y="1048.49" width="46.05" height="36.16" fill="#e3b04b"/>
<rect x="946.82" y="1048.49" width="46.05" height="36.16" fill="#e3ba5c"/>
<rect x="992.27" y="1048.49" width="46.05" height="36.16" fill="#e5cd86"/>
<rect x="1037.72" y="1048.49" width="46.05" height="36.16" fill="#e8d8a1"/>
<rect x="1083.17" y="1048.49" width="46.05" height="36.16" fill="#eaddb1"/>
<rect x="1128.62" y="1048.49" width="46.05" height="36.16" fill="#ece2bf"/>
<rect x="1174.07" y="1048.49" width="46.05" height="36.16" fill="#ece2bf"/>
<rect x="1219.52" y="1048.49" width="46.05" height="36.16" fill="#ece2bf"/>
<rect x="1264.98" y="1048.49" width="46.05" height="36.16" fill="#ece2bf"/>
<rect x="1310.43" y="1048.49" width="46.05" height="36.16" fill="#ece2bf"/>
<rect x="1355.88" y="1048.49" width="46.05" height="36.16" fill="#e9daa9"/>
<rect x="1401.33" y="1048.49" width="46.05" height="36.16" fill="#e7d599"/>
<rect x="1446.78" y="1048.49" width="46.05" height="36.16" fill="#e5c87c"/>
<rect x="1492.23" y="1048.49" width="46.05" height="36.16" fill="#e3ba5c"/>
<rect x="1537.68" y="1048.49" width="46.05" height="36.16" fill="#e3b04b"/>
<rect x="1583.13" y="1048.49" width="46.05" height="36.16" fill="#e2a032"/>
<rect x="1628.59" y="1048.49" width="46.05" height="36.16" fill="#e1992d"/>
<rect x="1674.04" y="1048.49" width="46.05" height="36.16" fill="#e09228"/>
<rect x="1719.49" y="1048.49" width="46.05" height="36.16" fill="#e08b23"/>
<rect x="1764.94" y="1048.49" width="46.05" height="36.16" fill="#de801c"/>
<rect x="1810.39" y="1048.49" width="46.05" height="36.16" fill="#da6e16"/>
<rect x="1855.84" y="1048.49" width="46.05" height="36.16" fill="#d86915"/>
<rect x="1901.29" y="1048.49" width="46.05" height="36.16" fill="#d76414"/>
<rect x="1946.74" y="1048.49" width="46.05" height="36.16" fill="#d45c15"/>
<rect x="1992.20" y="1048.49" width="46.05" height="36.16" fill="#d15416"/>
<rect x="2037.65" y="1048.49" width="46.05" height="36.16" fill="#cf5016"/>
<rect x="2083.10" y="1048.49" width="46.05" height="36.16" fill="#cb4a19"/>
<rect x="2128.55" y="1048.49" width="46.05" height="36.16" fill="#c9481b"/>
<rect x="310.50" y="1084.04" width="46.05" height="36.16" fill="#de7d19"/>
<rect x="355.95" y="1084.04" width="46.05" height="36.16" fill="#df8821"/>
<rect x="401.40" y="1084.04" width="46.05" height="36.16" fill="#e08b23"/>
<rect x="446.85" y="1084.04" width="46.05" height="36.16" fill="#e08f26"/>
<rect x="492.30" y="1084.04" width="46.05" height="36.16" fill="#e1962b"/>
<rect x="537.76" y="1084.04" width="46.05" height="36.16" fill="#e29c30"/>
<rect x="583.21" y="1084.04" width="46.05" height="36.16" fill="#e2a83f"/>
<rect x="628.66" y="1084.04" width="46.05" height="36.16" fill="#e2aa43"/>
<rect x="674.11" y="1084.04" width="46.05" height="36.16" fill="#e3b04b"/>
<rect x="719.56" y="1084.04" width="46.05" height="36.16" fill="#e3ba5c"/>
<rect x="765.01" y="1084.04" width="46.05" height="36.16" fill="#e5c87c"/>
<rect x="810.46" y="1084.04" width="46.05" height="36.16" fill="#e6d291"/>
<rect x="855.91" y="1084.04" width="46.05" height="36.16" fill="#e8d8a1"/>
<rect x="901.37" y="1084.04" width="46.05" height="36.16" fill="#eaddb1"/>
<rect x="946.82" y="1084.04" width="46.05" height="36.16" fill="#ede5c5"/>
<rect x="992.27" y="1084.04" width="46.05" height="36.16" fill="#eee7cb"/>
<rect x="1037.72" y="1084.04" width="46.05" height="36.16" fill="#f0ecd7"/>
<rect x="1083.17" y="1084.04" width="46.05" height="36.16" fill="#f1eddc"/>
<rect x="1128.62" y="1084.04" width="46.05" height="36.16" fill="#f2f1e9"/>
<rect x="1174.07" y="1084.04" width="46.05" height="36.16" fill="#f1eddc"/>
<rect x="1219.52" y="1084.04" width="46.05" height="36.16" fill="#f1eddc"/>
<rect x="1264.98" y="1084.04" width="46.05" height="36.16" fill="#f1eee0"/>
<rect x="1310.43" y="1084.04" width="46.05" height="36.16" fill="#f0ecd7"/>
<rect x="1355.88" y="1084.04" width="46.05" height="36.16" fill="#eee7cb"/>
<rect x="1401.33" y="1084.04" width="46.05" height="36.16" fill="#ece2bf"/>
<rect x="1446.78" y="1084.04" width="46.05" height="36.16" fill="#eaddb1"/>
<rect x="1492.23" y="1084.04" width="46.05" height="36.16" fill="#e8d8a1"/>
<rect x="1537.68" y="1084.04" width="46.05" height="36.16" fill="#e5cd86"/>
<rect x="1583.13" y="1084.04" width="46.05" height="36.16" fill="#e4bf67"/>
<rect x="1628.59" y="1084.04" width="46.05" height="36.16" fill="#e3b554"/>
<rect x="1674.04" y="1084.04" width="46.05" height="36.16" fill="#e3b04b"/>
<rect x="1719.49" y="1084.04" width="46.05" height="36.16" fill="#e2a53a"/>
<rect x="1764.94" y="1084.04" width="46.05" height="36.16" fill="#e2a336"/>
<rect x="1810.39" y="1084.04" width="46.05" height="36.16" fill="#e1962b"/>
<rect x="1855.84" y="1084.04" width="46.05" height="36.16" fill="#e08f26"/>
<rect x="1901.29" y="1084.04" width="46.05" height="36.16" fill="#df8821"/>
<rect x="1946.74" y="1084.04" width="46.05" height="36.16" fill="#de801c"/>
<rect x="1992.20" y="1084.04" width="46.05" height="36.16" fill="#db7317"/>
<rect x="2037.65" y="1084.04" width="46.05" height="36.16" fill="#d86915"/>
<rect x="2083.10" y="1084.04" width="46.05" height="36.16" fill="#d45c15"/>
<rect x="2128.55" y="1084.04" width="46.05" height="36.16" fill="#d15416"/>
<rect x="310.50" y="1119.60" width="46.05" height="36.16" fill="#da6e16"/>
<rect x="355.95" y="1119.60" width="46.05" height="36.16" fill="#dd7818"/>
<rect x="401.40" y="1119.60" width="46.05" height="36.16" fill="#de7d19"/>
<rect x="446.85" y="1119.60" width="46.05" height="36.16" fill="#de801c"/>
<rect x="492.30" y="1119.60" width="46.05" height="36.16" fill="#df841e"/>
<rect x="537.76" y="1119.60" width="46.05" height="36.16" fill="#e08f26"/>
<rect x="583.21" y="1119.60" width="46.05" height="36.16" fill="#e09228"/>
<rect x="628.66" y="1119.60" width="46.05" height="36.16" fill="#e1962b"/>
<rect x="674.11" y="1119.60" width="46.05" height="36.16" fill="#e2a032"/>
<rect x="719.56" y="1119.60" width="46.05" height="36.16" fill="#e2a83f"/>
<rect x="765.01" y="1119.60" width="46.05" height="36.16" fill="#e3b04b"/>
<rect x="810.46" y="1119.60" width="46.05" height="36.16" fill="#e3ba5c"/>
<rect x="855.91" y="1119.60" width="46.05" height="36.16" fill="#e5c87c"/>
<rect x="901.37" y="1119.60" width="46.05" height="36.16" fill="#e5cd86"/>
<rect x="946.82" y="1119.60" width="46.05" height="36.16" fill="#eaddb1"/>
<rect x="992.27" y="1119.60" width="46.05" height="36.16" fill="#ece2bf"/>
<rect x="1037.72" y="1119.60" width="46.05" height="36.16" fill="#eee7cb"/>
<rect x="1083.17" y="1119.60" width="46.05" height="36.16" fill="#f0ecd7"/>
<rect x="1128.62" y="1119.60" width="46.05" height="36.16" fill="#f1eddc"/>
<rect x="1174.07" y="1119.60" width="46.05" height="36.16" fill="#f1eddc"/>
<rect x="1219.52" y="1119.60" width="46.05" height="36.16" fill="#f1eddc"/>
<rect x="1264.98" y="1119.60" width="46.05" height="36.16" fill="#f0ecd7"/>
<rect x="1310.43" y="1119.60" width="46.05" height="36.16" fill="#efead1"/>
<rect x="1355.88" y="1119.60" width="46.05" height="36.16" fill="#ece2bf"/>
<rect x="1401.33" y="1119.60" width="46.05" height="36.16" fill="#e9daa9"/>
<rect x="1446.78" y="1119.60" width="46.05" height="36.16" fill="#e5cd86"/>
<rect x="1492.23" y="1119.60" width="46.05" height="36.16" fill="#e4c471"/>
<rect x="1537.68" y="1119.60" width="46.05" height="36.16" fill="#e3b758"/>
<rect x="1583.13" y="1119.60" width="46.05" height="36.16" fill="#e3b04b"/>
<rect x="1628.59" y="1119.60" width="46.05" height="36.16" fill="#e2a53a"/>
<rect x="1674.04" y="1119.60" width="46.05" height="36.16" fill="#e1992d"/>
<rect x="1719.49" y="1119.60" width="46.05" height="36.16" fill="#e08b23"/>
<rect x="1764.94" y="1119.60" width="46.05" height="36.16" fill="#de801c"/>
<rect x="1810.39" y="1119.60" width="46.05" height="36.16" fill="#dd7818"/>
<rect x="1855.84" y="1119.60" width="46.05" height="36.16" fill="#da6e16"/>
<rect x="1901.29" y="1119.60" width="46.05" height="36.16" fill="#d45c15"/>
<rect x="1946.74" y="1119.60" width="46.05" height="36.16" fill="#cf5016"/>
<rect x="1992.20" y="1119.60" width="46.05" height="36.16" fill="#cb4a19"/>
<rect x="2037.65" y="1119.60" width="46.05" height="36.16" fill="#c5421e"/>
<rect x="2083.10" y="1119.60" width="46.05" height="36.16" fill="#c03e21"/>
<rect x="2128.55" y="1119.60" width="46.05" height="36.16" fill="#be3c23"/>
<rect x="310.50" y="1155.16" width="46.05" height="36.16" fill="#d45c15"/>
<rect x="355.95" y="1155.16" width="46.05" height="36.16" fill="#d56014"/>
<rect x="401.40" y="1155.16" width="46.05" height="36.16" fill="#d56014"/>
<rect x="446.85" y="1155.16" width="46.05" height="36.16" fill="#d86915"/>
<rect x="492.30" y="1155.16" width="46.05" height="36.16" fill="#db7317"/>
<rect x="537.76" y="1155.16" width="46.05" height="36.16" fill="#de7d19"/>
<rect x="583.21" y="1155.16" width="46.05" height="36.16" fill="#de801c"/>
<rect x="628.66" y="1155.16" width="46.05" height="36.16" fill="#e08b23"/>
<rect x="674.11" y="1155.16" width="46.05" height="36.16" fill="#e09228"/>
<rect x="719.56" y="1155.16" width="46.05" height="36.16" fill="#e1992d"/>
<rect x="765.01" y="1155.16" width="46.05" height="36.16" fill="#e2a032"/>
<rect x="810.46" y="1155.16" width="46.05" height="36.16" fill="#e2a83f"/>
<rect x="855.91" y="1155.16" width="46.05" height="36.16" fill="#e2ad47"/>
<rect x="901.37" y="1155.16" width="46.05" height="36.16" fill="#e3b04b"/>
<rect x="946.82" y="1155.16" width="46.05" height="36.16" fill="#e5c87c"/>
<rect x="992.27" y="1155.16" width="46.05" height="36.16" fill="#e7d599"/>
<rect x="1037.72" y="1155.16" width="46.05" height="36.16" fill="#ebe0b9"/>
<rect x="1083.17" y="1155.16" width="46.05" height="36.16" fill="#eee7cb"/>
<rect x="1128.62" y="1155.16" width="46.05" height="36.16" fill="#f1eddc"/>
<rect x="1174.07" y="1155.16" width="46.05" height="36.16" fill="#eee7cb"/>
<rect x="1219.52" y="1155.16" width="46.05" height="36.16" fill="#eee7cb"/>
<rect x="1264.98" y="1155.16" width="46.05" height="36.16" fill="#ebe0b9"/>
<rect x="1310.43" y="1155.16" width="46.05" height="36.16" fill="#ebe0b9"/>
<rect x="1355.88" y="1155.16" width="46.05" height="36.16" fill="#e7d599"/>
<rect x="1401.33" y="1155.16" width="46.05" height="36.16" fill="#e8d8a1"/>
<rect x="1446.78" y="1155.16" width="46.05" height="36.16" fill="#e8d8a1"/>
<rect x="1492.23" y="1155.16" width="46.05" height="36.16" fill="#e6d291"/>
<rect x="1537.68" y="1155.16" width="46.05" height="36.16" fill="#e4bf67"/>
<rect x="1583.13" y="1155.16" width="46.05" height="36.16" fill="#e3b24f"/>
<rect x="1628.59" y="1155.16" width="46.05" height="36.16" fill="#e2aa43"/>
<rect x="1674.04" y="1155.16" width="46.05" height="36.16" fill="#e2a032"/>
<rect x="1719.49" y="1155.16" width="46.05" height="36.16" fill="#e08f26"/>
<rect x="1764.94" y="1155.16" width="46.05" height="36.16" fill="#df841e"/>
<rect x="1810.39" y="1155.16" width="46.05" height="36.16" fill="#de7d19"/>
<rect x="1855.84" y="1155.16" width="46.05" height="36.16" fill="#da6e16"/>
<rect x="1901.29" y="1155.16" width="46.05" height="36.16" fill="#d56014"/>
<rect x="1946.74" y="1155.16" width="46.05" height="36.16" fill="#d25815"/>
<rect x="1992.20" y="1155.16" width="46.05" height="36.16" fill="#d15416"/>
<rect x="2037.65" y="1155.16" width="46.05" height="36.16" fill="#cf5016"/>
<rect x="2083.10" y="1155.16" width="46.05" height="36.16" fill="#cb4a19"/>
<rect x="2128.55" y="1155.16" width="46.05" height="36.16" fill="#c7451c"/>
<rect x="310.50" y="1190.71" width="46.05" height="36.16" fill="#e2a032"/>
<rect x="355.95" y="1190.71" width="46.05" height="36.16" fill="#e2a336"/>
<rect x="401.40" y="1190.71" width="46.05" height="36.16" fill="#e2a83f"/>
<rect x="446.85" y="1190.71" width="46.05" height="36.16" fill="#e2ad47"/>
<rect x="492.30" y="1190.71" width="46.05" height="36.16" fill="#e3b24f"/>
<rect x="537.76" y="1190.71" width="46.05" height="36.16" fill="#e3b758"/>
<rect x="583.21" y="1190.71" width="46.05" height="36.16" fill="#e4bf67"/>
<rect x="628.66" y="1190.71" width="46.05" height="36.16" fill="#e5c87c"/>
<rect x="674.11" y="1190.71" width="46.05" height="36.16" fill="#e7d599"/>
<rect x="719.56" y="1190.71" width="46.05" height="36.16" fill="#e9daa9"/>
<rect x="765.01" y="1190.71" width="46.05" height="36.16" fill="#ebe0b9"/>
<rect x="810.46" y="1190.71" width="46.05" height="36.16" fill="#ece2bf"/>
<rect x="855.91" y="1190.71" width="46.05" height="36.16" fill="#ede5c5"/>
<rect x="901.37" y="1190.71" width="46.05" height="36.16" fill="#eee7cb"/>
<rect x="946.82" y="1190.71" width="46.05" height="36.16" fill="#efead1"/>
<rect x="992.27" y="1190.71" width="46.05" height="36.16" fill="#f1eee0"/>
<rect x="1037.72" y="1190.71" width="46.05" height="36.16" fill="#f1eee0"/>
<rect x="1083.17" y="1190.71" width="46.05" height="36.16" fill="#f2f0e5"/>
<rect x="1128.62" y="1190.71" width="46.05" height="36.16" fill="#f3f2ee"/>
<rect x="1174.07" y="1190.71" width="46.05" height="36.16" fill="#f3f2ee"/>
<rect x="1219.52" y="1190.71" width="46.05" height="36.16" fill="#f2f0e5"/>
<rect x="1264.98" y="1190.71" width="46.05" height="36.16" fill="#f1eddc"/>
<rect x="1310.43" y="1190.71" width="46.05" height="36.16" fill="#f1eddc"/>
<rect x="1355.88" y="1190.71" width="46.05" height="36.16" fill="#f0ecd7"/>
<rect x="1401.33" y="1190.71" width="46.05" height="36.16" fill="#efead1"/>
<rect x="1446.78" y="1190.71" width="46.05" height="36.16" fill="#eee7cb"/>
<rect x="1492.23" y="1190.71" width="46.05" height="36.16" fill="#ede5c5"/>
<rect x="1537.68" y="1190.71" width="46.05" height="36.16" fill="#eaddb1"/>
<rect x="1583.13" y="1190.71" width="46.05" height="36.16" fill="#e8d8a1"/>
<rect x="1628.59" y="1190.71" width="46.05" height="36.16" fill="#e5cd86"/>
<rect x="1674.04" y="1190.71" width="46.05" height="36.16" fill="#e4c471"/>
<rect x="1719.49" y="1190.71" width="46.05" height="36.16" fill="#e4bf67"/>
<rect x="1764.94" y="1190.71" width="46.05" height="36.16" fill="#e3b758"/>
<rect x="1810.39" y="1190.71" width="46.05" height="36.16" fill="#e3b24f"/>
<rect x="1855.84" y="1190.71" width="46.05" height="36.16" fill="#e2aa43"/>
<rect x="1901.29" y="1190.71" width="46.05" height="36.16" fill="#e2a53a"/>
<rect x="1946.74" y="1190.71" width="46.05" height="36.16" fill="#e2a032"/>
<rect x="1992.20" y="1190.71" width="46.05" height="36.16" fill="#e2a032"/>
<rect x="2037.65" y="1190.71" width="46.05" height="36.16" fill="#e1962b"/>
<rect x="2083.10" y="1190.71" width="46.05" height="36.16" fill="#e09228"/>
<rect x="2128.55" y="1190.71" width="46.05" height="36.16" fill="#df8821"/>
<rect x="310.50" y="1226.27" width="46.05" height="36.16" fill="#e1992d"/>
<rect x="355.95" y="1226.27" width="46.05" height="36.16" fill="#e2a032"/>
<rect x="401.40" y="1226.27" width="46.05" height="36.16" fill="#e2a53a"/>
<rect x="446.85" y="1226.27" width="46.05" height="36.16" fill="#e2ad47"/>
<rect x="492.30" y="1226.27" width="46.05" height="36.16" fill="#e3b24f"/>
<rect x="537.76" y="1226.27" width="46.05" height="36.16" fill="#e3b758"/>
<rect x="583.21" y="1226.27" width="46.05" height="36.16" fill="#e3ba5c"/>
<rect x="628.66" y="1226.27" width="46.05" height="36.16" fill="#e5c87c"/>
<rect x="674.11" y="1226.27" width="46.05" height="36.16" fill="#e7d599"/>
<rect x="719.56" y="1226.27" width="46.05" height="36.16" fill="#eaddb1"/>
<rect x="765.01" y="1226.27" width="46.05" height="36.16" fill="#ebe0b9"/>
<rect x="810.46" y="1226.27" width="46.05" height="36.16" fill="#eee7cb"/>
<rect x="855.91" y="1226.27" width="46.05" height="36.16" fill="#eee7cb"/>
<rect x="901.37" y="1226.27" width="46.05" height="36.16" fill="#eee7cb"/>
<rect x="946.82" y="1226.27" width="46.05" height="36.16" fill="#f1eddc"/>
<rect x="992.27" y="1226.27" width="46.05" height="36.16" fill="#f1eee0"/>
<rect x="1037.72" y="1226.27" width="46.05" height="36.16" fill="#f1eee0"/>
<rect x="1083.17" y="1226.27" width="46.05" height="36.16" fill="#f2f0e5"/>
<rect x="1128.62" y="1226.27" width="46.05" height="36.16" fill="#f3f2ee"/>
<rect x="1174.07" y="1226.27" width="46.05" height="36.16" fill="#f3f2ee"/>
<rect x="1219.52" y="1226.27" width="46.05" height="36.16" fill="#f2f0e5"/>
<rect x="1264.98" y="1226.27" width="46.05" height="36.16" fill="#f2f0e5"/>
<rect x="1310.43" y="1226.27" width="46.05" height="36.16" fill="#f1eddc"/>
<rect x="1355.88" y="1226.27" width="46.05" height="36.16" fill="#f1eddc"/>
<rect x="1401.33" y="1226.27" width="46.05" height="36.16" fill="#f1eddc"/>
<rect x="1446.78" y="1226.27" width="46.05" height="36.16" fill="#f0ecd7"/>
<rect x="1492.23" y="1226.27" width="46.05" height="36.16" fill="#efead1"/>
<rect x="1537.68" y="1226.27" width="46.05" height="36.16" fill="#ede5c5"/>
<rect x="1583.13" y="1226.27" width="46.05" height="36.16" fill="#ebe0b9"/>
<rect x="1628.59" y="1226.27" width="46.05" height="36.16" fill="#e9daa9"/>
<rect x="1674.04" y="1226.27" width="46.05" height="36.16" fill="#e7d599"/>
<rect x="1719.49" y="1226.27" width="46.05" height="36.16" fill="#e5cd86"/>
<rect x="1764.94" y="1226.27" width="46.05" height="36.16" fill="#e4c471"/>
<rect x="1810.39" y="1226.27" width="46.05" height="36.16" fill="#e3ba5c"/>
<rect x="1855.84" y="1226.27" width="46.05" height="36.16" fill="#e3b758"/>
<rect x="1901.29" y="1226.27" width="46.05" height="36.16" fill="#e3b24f"/>
<rect x="1946.74" y="1226.27" width="46.05" height="36.16" fill="#e2ad47"/>
<rect x="1992.20" y="1226.27" width="46.05" height="36.16" fill="#e2a53a"/>
<rect x="2037.65" y="1226.27" width="46.05" height="36.16" fill="#e2a032"/>
<rect x="2083.10" y="1226.27" width="46.05" height="36.16" fill="#e29c30"/>
<rect x="2128.55" y="1226.27" width="46.05" height="36.16" fill="#e09228"/>
<rect x="310.50" y="1261.82" width="46.05" height="36.16" fill="#e2a336"/>
<rect x="355.95" y="1261.82" width="46.05" height="36.16" fill="#e2a83f"/>
<rect x="401.40" y="1261.82" width="46.05" height="36.16" fill="#e2ad47"/>
<rect x="446.85" y="1261.82" width="46.05" height="36.16" fill="#e3b554"/>
<rect x="492.30" y="1261.82" width="46.05" height="36.16" fill="#e3b758"/>
<rect x="537.76" y="1261.82" width="46.05" height="36.16" fill="#e4bf67"/>
<rect x="583.21" y="1261.82" width="46.05" height="36.16" fill="#e4c471"/>
<rect x="628.66" y="1261.82" width="46.05" height="36.16" fill="#e5cd86"/>
<rect x="674.11" y="1261.82" width="46.05" height="36.16" fill="#e9daa9"/>
<rect x="719.56" y="1261.82" width="46.05" height="36.16" fill="#eaddb1"/>
<rect x="765.01" y="1261.82" width="46.05" height="36.16" fill="#ebe0b9"/>
<rect x="810.46" y="1261.82" width="46.05" height="36.16" fill="#ede5c5"/>
<rect x="855.91" y="1261.82" width="46.05" height="36.16" fill="#eee7cb"/>
<rect x="901.37" y="1261.82" width="46.05" height="36.16" fill="#eee7cb"/>
<rect x="946.82" y="1261.82" width="46.05" height="36.16" fill="#f1eddc"/>
<rect x="992.27" y="1261.82" width="46.05" height="36.16" fill="#f1eee0"/>
<rect x="1037.72" y="1261.82" width="46.05" height="36.16" fill="#f1eee0"/>
<rect x="1083.17" y="1261.82" width="46.05" height="36.16" fill="#f2f1e9"/>
<rect x="1128.62" y="1261.82" width="46.05" height="36.16" fill="#f3f2ee"/>
<rect x="1174.07" y="1261.82" width="46.05" height="36.16" fill="#f3f2ee"/>
<rect x="1219.52" y="1261.82" width="46.05" height="36.16" fill="#f3f2ee"/>
<rect x="1264.98" y="1261.82" width="46.05" height="36.16" fill="#f2f1e9"/>
<rect x="1310.43" y="1261.82" width="46.05" height="36.16" fill="#f2f1e9"/>
<rect x="1355.88" y="1261.82" width="46.05" height="36.16" fill="#f1eee0"/>
<rect x="1401.33" y="1261.82" width="46.05" height="36.16" fill="#f1eee0"/>
<rect x="1446.78" y="1261.82" width="46.05" height="36.16" fill="#f1eee0"/>
<rect x="1492.23" y="1261.82" width="46.05" height="36.16" fill="#f1eee0"/>
<rect x="1537.68" y="1261.82" width="46.05" height="36.16" fill="#f0ecd7"/>
<rect x="1583.13" y="1261.82" width="46.05" height="36.16" fill="#eee7cb"/>
<rect x="1628.59" y="1261.82" width="46.05" height="36.16" fill="#ede5c5"/>
<rect x="1674.04" y="1261.82" width="46.05" height="36.16" fill="#eaddb1"/>
<rect x="1719.49" y="1261.82" width="46.05" height="36.16" fill="#e8d8a1"/>
<rect x="1764.94" y="1261.82" width="46.05" height="36.16" fill="#e8d8a1"/>
<rect x="1810.39" y="1261.82" width="46.05" height="36.16" fill="#e5cd86"/>
<rect x="1855.84" y="1261.82" width="46.05" height="36.16" fill="#e5c87c"/>
<rect x="1901.29" y="1261.82" width="46.05" height="36.16" fill="#e4bf67"/>
<rect x="1946.74" y="1261.82" width="46.05" height="36.16" fill="#e3b758"/>
<rect x="1992.20" y="1261.82" width="46.05" height="36.16" fill="#e3b554"/>
<rect x="2037.65" y="1261.82" width="46.05" height="36.16" fill="#e3b04b"/>
<rect x="2083.10" y="1261.82" width="46.05" height="36.16" fill="#e2aa43"/>
<rect x="2128.55" y="1261.82" width="46.05" height="36.16" fill="#e2a53a"/>
<rect x="310.50" y="1297.38" width="46.05" height="36.16" fill="#e3b04b"/>
<rect x="355.95" y="1297.38" width="46.05" height="36.16" fill="#e3b554"/>
<rect x="401.40" y="1297.38" width="46.05" height="36.16" fill="#e3b758"/>
<rect x="446.85" y="1297.38" width="46.05" height="36.16" fill="#e4bf67"/>
<rect x="492.30" y="1297.38" width="46.05" height="36.16" fill="#e4c471"/>
<rect x="537.76" y="1297.38" width="46.05" height="36.16" fill="#e5c87c"/>
<rect x="583.21" y="1297.38" width="46.05" height="36.16" fill="#e6d291"/>
<rect x="628.66" y="1297.38" width="46.05" height="36.16" fill="#e7d599"/>
<rect x="674.11" y="1297.38" width="46.05" height="36.16" fill="#e9daa9"/>
<rect x="719.56" y="1297.38" width="46.05" height="36.16" fill="#ebe0b9"/>
<rect x="765.01" y="1297.38" width="46.05" height="36.16" fill="#ece2bf"/>
<rect x="810.46" y="1297.38" width="46.05" height="36.16" fill="#eee7cb"/>
<rect x="855.91" y="1297.38" width="46.05" height="36.16" fill="#efead1"/>
<rect x="901.37" y="1297.38" width="46.05" height="36.16" fill="#f0ecd7"/>
<rect x="946.82" y="1297.38" width="46.05" height="36.16" fill="#f1eee0"/>
<rect x="992.27" y="1297.38" width="46.05" height="36.16" fill="#f1eee0"/>
<rect x="1037.72" y="1297.38" width="46.05" height="36.16" fill="#f2f1e9"/>
<rect x="1083.17" y="1297.38" width="46.05" height="36.16" fill="#f2f1e9"/>
<rect x="1128.62" y="1297.38" width="46.05" height="36.16" fill="#f3f2ee"/>
<rect x="1174.07" y="1297.38" width="46.05" height="36.16" fill="#f3f2ee"/>
<rect x="1219.52" y="1297.38" width="46.05" height="36.16" fill="#f3f2ee"/>
<rect x="1264.98" y="1297.38" width="46.05" height="36.16" fill="#f2f0e5"/>
<rect x="1310.43" y="1297.38" width="46.05" height="36.16" fill="#f2f0e5"/>
<rect x="1355.88" y="1297.38" width="46.05" height="36.16" fill="#f2f1e9"/>
<rect x="1401.33" y="1297.38" width="46.05" height="36.16" fill="#f1eee0"/>
<rect x="1446.78" y="1297.38" width="46.05" height="36.16" fill="#f1eee0"/>
<rect x="1492.23" y="1297.38" width="46.05" height="36.16" fill="#f1eee0"/>
<rect x="1537.68" y="1297.38" width="46.05" height="36.16" fill="#f1eddc"/>
<rect x="1583.13" y="1297.38" width="46.05" height="36.16" fill="#efead1"/>
<rect x="1628.59" y="1297.38" width="46.05" height="36.16" fill="#eee7cb"/>
<rect x="1674.04" y="1297.38" width="46.05" height="36.16" fill="#ece2bf"/>
<rect x="1719.49" y="1297.38" width="46.05" height="36.16" fill="#eaddb1"/>
<rect x="1764.94" y="1297.38" width="46.05" height="36.16" fill="#e8d8a1"/>
<rect x="1810.39" y="1297.38" width="46.05" height="36.16" fill="#e7d599"/>
<rect x="1855.84" y="1297.38" width="46.05" height="36.16" fill="#e5cd86"/>
<rect x="1901.29" y="1297.38" width="46.05" height="36.16" fill="#e5c87c"/>
<rect x="1946.74" y="1297.38" width="46.05" height="36.16" fill="#e4bf67"/>
<rect x="1992.20" y="1297.38" width="46.05" height="36.16" fill="#e3b758"/>
<rect x="2037.65" y="1297.38" width="46.05" height="36.16" fill="#e3b24f"/>
<rect x="2083.10" y="1297.38" width="46.05" height="36.16" fill="#e3b04b"/>
<rect x="2128.55" y="1297.38" width="46.05" height="36.16" fill="#e2ad47"/>
<rect x="310.50" y="1332.93" width="46.05" height="36.16" fill="#e2a336"/>
<rect x="355.95" y="1332.93" width="46.05" height="36.16" fill="#e2a83f"/>
<rect x="401.40" y="1332.93" width="46.05" height="36.16" fill="#e2ad47"/>
<rect x="446.85" y="1332.93" width="46.05" height="36.16" fill="#e3b554"/>
<rect x="492.30" y="1332.93" width="46.05" height="36.16" fill="#e3ba5c"/>
<rect x="537.76" y="1332.93" width="46.05" height="36.16" fill="#e4bf67"/>
<rect x="583.21" y="1332.93" width="46.05" height="36.16" fill="#e5c87c"/>
<rect x="628.66" y="1332.93" width="46.05" height="36.16" fill="#e6d291"/>
<rect x="674.11" y="1332.93" width="46.05" height="36.16" fill="#e8d8a1"/>
<rect x="719.56" y="1332.93" width="46.05" height="36.16" fill="#e9daa9"/>
<rect x="765.01" y="1332.93" width="46.05" height="36.16" fill="#ebe0b9"/>
<rect x="810.46" y="1332.93" width="46.05" height="36.16" fill="#ece2bf"/>
<rect x="855.91" y="1332.93" width="46.05" height="36.16" fill="#ede5c5"/>
<rect x="901.37" y="1332.93" width="46.05" height="36.16" fill="#eee7cb"/>
<rect x="946.82" y="1332.93" width="46.05" height="36.16" fill="#f1eddc"/>
<rect x="992.27" y="1332.93" width="46.05" height="36.16" fill="#f1eee0"/>
<rect x="1037.72" y="1332.93" width="46.05" height="36.16" fill="#f1eee0"/>
<rect x="1083.17" y="1332.93" width="46.05" height="36.16" fill="#f2f1e9"/>
<rect x="1128.62" y="1332.93" width="46.05" height="36.16" fill="#f3f2ee"/>
<rect x="1174.07" y="1332.93" width="46.05" height="36.16" fill="#f3f2ee"/>
<rect x="1219.52" y="1332.93" width="46.05" height="36.16" fill="#f2f1e9"/>
<rect x="1264.98" y="1332.93" width="46.05" height="36.16" fill="#f1eee0"/>
<rect x="1310.43" y="1332.93" width="46.05" height="36.16" fill="#f1eee0"/>
<rect x="1355.88" y="1332.93" width="46.05" height="36.16" fill="#f1eddc"/>
<rect x="1401.33" y="1332.93" width="46.05" height="36.16" fill="#f0ecd7"/>
<rect x="1446.78" y="1332.93" width="46.05" height="36.16" fill="#efead1"/>
<rect x="1492.23" y="1332.93" width="46.05" height="36.16" fill="#efead1"/>
<rect x="1537.68" y="1332.93" width="46.05" height="36.16" fill="#eee7cb"/>
<rect x="1583.13" y="1332.93" width="46.05" height="36.16" fill="#ebe0b9"/>
<rect x="1628.59" y="1332.93" width="46.05" height="36.16" fill="#eaddb1"/>
<rect x="1674.04" y="1332.93" width="46.05" height="36.16" fill="#e8d8a1"/>
<rect x="1719.49" y="1332.93" width="46.05" height="36.16" fill="#e6d291"/>
<rect x="1764.94" y="1332.93" width="46.05" height="36.16" fill="#e5c87c"/>
<rect x="1810.39" y="1332.93" width="46.05" height="36.16" fill="#e4bf67"/>
<rect x="1855.84" y="1332.93" width="46.05" height="36.16" fill="#e3ba5c"/>
<rect x="1901.29" y="1332.93" width="46.05" height="36.16" fill="#e3b554"/>
<rect x="1946.74" y="1332.93" width="46.05" height="36.16" fill="#e2ad47"/>
<rect x="1992.20" y="1332.93" width="46.05" height="36.16" fill="#e2a83f"/>
<rect x="2037.65" y="1332.93" width="46.05" height="36.16" fill="#e2a032"/>
<rect x="2083.10" y="1332.93" width="46.05" height="36.16" fill="#e1992d"/>
<rect x="2128.55" y="1332.93" width="46.05" height="36.16" fill="#e08f26"/>
<rect x="310.50" y="1368.49" width="46.05" height="36.16" fill="#e9daa9"/>
<rect x="355.95" y="1368.49" width="46.05" height="36.16" fill="#eaddb1"/>
<rect x="401.40" y="1368.49" width="46.05" height="36.16" fill="#ebe0b9"/>
<rect x="446.85" y="1368.49" width="46.05" height="36.16" fill="#ebe0b9"/>
<rect x="492.30" y="1368.49" width="46.05" height="36.16" fill="#ece2bf"/>
<rect x="537.76" y="1368.49" width="46.05" height="36.16" fill="#ede5c5"/>
<rect x="583.21" y="1368.49" width="46.05" height="36.16" fill="#eee7cb"/>
<rect x="628.66" y="1368.49" width="46.05" height="36.16" fill="#eee7cb"/>
<rect x="674.11" y="1368.49" width="46.05" height="36.16" fill="#efead1"/>
<rect x="719.56" y="1368.49" width="46.05" height="36.16" fill="#f0ecd7"/>
<rect x="765.01" y="1368.49" width="46.05" height="36.16" fill="#f1eddc"/>
<rect x="810.46" y="1368.49" width="46.05" height="36.16" fill="#f1eddc"/>
<rect x="855.91" y="1368.49" width="46.05" height="36.16" fill="#f1eddc"/>
<rect x="901.37" y="1368.49" width="46.05" height="36.16" fill="#f1eddc"/>
<rect x="946.82" y="1368.49" width="46.05" height="36.16" fill="#f1eee0"/>
<rect x="992.27" y="1368.49" width="46.05" height="36.16" fill="#f1eee0"/>
<rect x="1037.72" y="1368.49" width="46.05" height="36.16" fill="#f1eee0"/>
<rect x="1083.17" y="1368.49" width="46.05" height="36.16" fill="#f1eee0"/>
<rect x="1128.62" y="1368.49" width="46.05" height="36.16" fill="#f0ecd7"/>
<rect x="1174.07" y="1368.49" width="46.05" height="36.16" fill="#f0ecd7"/>
<rect x="1219.52" y="1368.49" width="46.05" height="36.16" fill="#efead1"/>
<rect x="1264.98" y="1368.49" width="46.05" height="36.16" fill="#eee7cb"/>
<rect x="1310.43" y="1368.49" width="46.05" height="36.16" fill="#ede5c5"/>
<rect x="1355.88" y="1368.49" width="46.05" height="36.16" fill="#ece2bf"/>
<rect x="1401.33" y="1368.49" width="46.05" height="36.16" fill="#ebe0b9"/>
<rect x="1446.78" y="1368.49" width="46.05" height="36.16" fill="#ebe0b9"/>
<rect x="1492.23" y="1368.49" width="46.05" height="36.16" fill="#ebe0b9"/>
<rect x="1537.68" y="1368.49" width="46.05" height="36.16" fill="#eaddb1"/>
<rect x="1583.13" y="1368.49" width="46.05" height="36.16" fill="#e7d599"/>
<rect x="1628.59" y="1368.49" width="46.05" height="36.16" fill="#e6d291"/>
<rect x="1674.04" y="1368.49" width="46.05" height="36.16" fill="#e5cd86"/>
<rect x="1719.49" y="1368.49" width="46.05" height="36.16" fill="#e5c87c"/>
<rect x="1764.94" y="1368.49" width="46.05" height="36.16" fill="#e4c471"/>
<rect x="1810.39" y="1368.49" width="46.05" height="36.16" fill="#e3ba5c"/>
<rect x="1855.84" y="1368.49" width="46.05" height="36.16" fill="#e3b758"/>
<rect x="1901.29" y="1368.49" width="46.05" height="36.16" fill="#e3b554"/>
<rect x="1946.74" y="1368.49" width="46.05" height="36.16" fill="#e3b24f"/>
<rect x="1992.20" y="1368.49" width="46.05" height="36.16" fill="#e3b04b"/>
<rect x="2037.65" y="1368.49" width="46.05" height="36.16" fill="#e2a83f"/>
<rect x="2083.10" y="1368.49" width="46.05" height="36.16" fill="#e2a53a"/>
<rect x="2128.55" y="1368.49" width="46.05" height="36.16" fill="#e2a336"/>
<rect x="310.50" y="1404.04" width="46.05" height="36.16" fill="#e4bf67"/>
<rect x="355.95" y="1404.04" width="46.05" height="36.16" fill="#e4bf67"/>
<rect x="401.40" y="1404.04" width="46.05" height="36.16" fill="#e4bf67"/>
<rect x="446.85" y="1404.04" width="46.05" height="36.16" fill="#e4bf67"/>
<rect x="492.30" y="1404.04" width="46.05" height="36.16" fill="#e4bf67"/>
<rect x="537.76" y="1404.04" width="46.05" height="36.16" fill="#e4bf67"/>
<rect x="583.21" y="1404.04" width="46.05" height="36.16" fill="#e4bf67"/>
<rect x="628.66" y="1404.04" width="46.05" height="36.16" fill="#e4bf67"/>
<rect x="674.11" y="1404.04" width="46.05" height="36.16" fill="#e4bf67"/>
<rect x="719.56" y="1404.04" width="46.05" height="36.16" fill="#e4bf67"/>
<rect x="765.01" y="1404.04" width="46.05" height="36.16" fill="#e4bf67"/>
<rect x="810.46" y="1404.04" width="46.05" height="36.16" fill="#e4c16c"/>
<rect x="855.91" y="1404.04" width="46.05" height="36.16" fill="#e4c16c"/>
<rect x="901.37" y="1404.04" width="46.05" height="36.16" fill="#e4c16c"/>
<rect x="946.82" y="1404.04" width="46.05" height="36.16" fill="#e4c471"/>
<rect x="992.27" y="1404.04" width="46.05" height="36.16" fill="#e4c471"/>
<rect x="1037.72" y="1404.04" width="46.05" height="36.16" fill="#e4c471"/>
<rect x="1083.17" y="1404.04" width="46.05" height="36.16" fill="#e4c471"/>
<rect x="1128.62" y="1404.04" width="46.05" height="36.16" fill="#e4c471"/>
<rect x="1174.07" y="1404.04" width="46.05" height="36.16" fill="#e4c471"/>
<rect x="1219.52" y="1404.04" width="46.05" height="36.16" fill="#e4bf67"/>
<rect x="1264.98" y="1404.04" width="46.05" height="36.16" fill="#e3ba5c"/>
<rect x="1310.43" y="1404.04" width="46.05" height="36.16" fill="#e3ba5c"/>
<rect x="1355.88" y="1404.04" width="46.05" height="36.16" fill="#e3ba5c"/>
<rect x="1401.33" y="1404.04" width="46.05" height="36.16" fill="#e3b554"/>
<rect x="1446.78" y="1404.04" width="46.05" height="36.16" fill="#e3b554"/>
<rect x="1492.23" y="1404.04" width="46.05" height="36.16" fill="#e3b554"/>
<rect x="1537.68" y="1404.04" width="46.05" height="36.16" fill="#e3b554"/>
<rect x="1583.13" y="1404.04" width="46.05" height="36.16" fill="#e3b04b"/>
<rect x="1628.59" y="1404.04" width="46.05" height="36.16" fill="#e3b04b"/>
<rect x="1674.04" y="1404.04" width="46.05" height="36.16" fill="#e2ad47"/>
<rect x="1719.49" y="1404.04" width="46.05" height="36.16" fill="#e2ad47"/>
<rect x="1764.94" y="1404.04" width="46.05" height="36.16" fill="#e2aa43"/>
<rect x="1810.39" y="1404.04" width="46.05" height="36.16" fill="#e2a336"/>
<rect x="1855.84" y="1404.04" width="46.05" height="36.16" fill="#e2a032"/>
<rect x="1901.29" y="1404.04" width="46.05" height="36.16" fill="#e2a032"/>
<rect x="1946.74" y="1404.04" width="46.05" height="36.16" fill="#e29c30"/>
<rect x="1992.20" y="1404.04" width="46.05" height="36.16" fill="#e29c30"/>
<rect x="2037.65" y="1404.04" width="46.05" height="36.16" fill="#e1962b"/>
<rect x="2083.10" y="1404.04" width="46.05" height="36.16" fill="#e09228"/>
<rect x="2128.55" y="1404.04" width="46.05" height="36.16" fill="#e08f26"/>
</g>
<path d="M446 160V1441M673 160V1441M900 160V1441M1128 160V1441M1355 160V1441M1582 160V1441M1809 160V1441M2037 160V1441M310 1372H2174M310 1314H2174M310 1265H2174M310 1221H2174M310 1181H2174M310 923H2174M310 772H2174M310 665H2174M310 582H2174M310 514H2174M310 457H2174M310 407H2174M310 363H2174M310 324H2174" stroke="#efe7cf" stroke-width="2" stroke-dasharray="1 2" fill="none" shape-rendering="crispEdges"/>
<g stroke="#ede3c7" stroke-width="1" fill="none" shape-rendering="crispEdges">
<path d="M310.5 160.0V1440.5"/>
<path d="M310.0 1440.5H2173.5"/>
<path d="M310.5 1440.5V1422.0M355.5 1440.5V1422.0M401.5 1440.5V1422.0M446.5 1440.5V1405.5M492.5 1440.5V1422.0M537.5 1440.5V1422.0M583.5 1440.5V1422.0M628.5 1440.5V1422.0M674.5 1440.5V1405.5M719.5 1440.5V1422.0M765.5 1440.5V1422.0M810.5 1440.5V1422.0M855.5 1440.5V1422.0M901.5 1440.5V1405.5M946.5 1440.5V1422.0M992.5 1440.5V1422.0M1037.5 1440.5V1422.0M1083.5 1440.5V1422.0M1128.5 1440.5V1405.5M1174.5 1440.5V1422.0M1219.5 1440.5V1422.0M1264.5 1440.5V1422.0M1310.5 1440.5V1422.0M1355.5 1440.5V1405.5M1401.5 1440.5V1422.0M1446.5 1440.5V1422.0M1492.5 1440.5V1422.0M1537.5 1440.5V1422.0M1583.5 1440.5V1405.5M1628.5 1440.5V1422.0M1674.5 1440.5V1422.0M1719.5 1440.5V1422.0M1764.5 1440.5V1422.0M1810.5 1440.5V1405.5M1855.5 1440.5V1422.0M1901.5 1440.5V1422.0M1946.5 1440.5V1422.0M1992.5 1440.5V1422.0M2037.5 1440.5V1405.5M2083.5 1440.5V1422.0M2128.5 1440.5V1422.0M2174.5 1440.5V1422.0M310.0 1372.5H342.0M310.0 1314.5H342.0M310.0 1265.5H342.0M310.0 1221.5H342.0M310.0 1181.5H374.0M310.0 923.5H342.0M310.0 772.5H342.0M310.0 665.5H342.0M310.0 582.5H342.0M310.0 514.5H342.0M310.0 457.5H342.0M310.0 407.5H342.0M310.0 363.5H342.0M310.0 324.5H374.0"/>
</g>
<g shape-rendering="crispEdges">
<rect x="2186" y="160.00" width="117" height="10.60" fill="#f3f1ed"/>
<rect x="2186" y="170.00" width="117" height="10.60" fill="#f2f0ea"/>
<rect x="2186" y="180.01" width="117" height="10.60" fill="#f1eee5"/>
<rect x="2186" y="190.01" width="117" height="10.60" fill="#f0ede0"/>
<rect x="2186" y="200.02" width="117" height="10.60" fill="#efebdc"/>
<rect x="2186" y="210.02" width="117" height="10.60" fill="#eee9d7"/>
<rect x="2186" y="220.02" width="117" height="10.60" fill="#ede8d2"/>
<rect x="2186" y="230.03" width="117" height="10.60" fill="#ece6ca"/>
<rect x="2186" y="240.03" width="117" height="10.60" fill="#ebe4c2"/>
<rect x="2186" y="250.04" width="117" height="10.60" fill="#eae1bc"/>
<rect x="2186" y="260.04" width="117" height="10.60" fill="#e9dfb6"/>
<rect x="2186" y="270.04" width="117" height="10.60" fill="#e9dcae"/>
<rect x="2186" y="280.05" width="117" height="10.60" fill="#e8daa4"/>
<rect x="2186" y="290.05" width="117" height="10.60" fill="#e7d79a"/>
<rect x="2186" y="300.05" width="117" height="10.60" fill="#e6d494"/>
<rect x="2186" y="310.06" width="117" height="10.60" fill="#e6d28d"/>
<rect x="2186" y="320.06" width="117" height="10.60" fill="#e5cf86"/>
<rect x="2186" y="330.07" width="117" height="10.60" fill="#e5cc7f"/>
<rect x="2186" y="340.07" width="117" height="10.60" fill="#e4ca78"/>
<rect x="2186" y="350.07" width="117" height="10.60" fill="#e4c874"/>
<rect x="2186" y="360.08" width="117" height="10.60" fill="#e3c570"/>
<rect x="2186" y="370.08" width="117" height="10.60" fill="#e3c36c"/>
<rect x="2186" y="380.09" width="117" height="10.60" fill="#e2c068"/>
<rect x="2186" y="390.09" width="117" height="10.60" fill="#e2be64"/>
<rect x="2186" y="400.09" width="117" height="10.60" fill="#e2bb5f"/>
<rect x="2186" y="410.10" width="117" height="10.60" fill="#e2b95b"/>
<rect x="2186" y="420.10" width="117" height="10.60" fill="#e2b656"/>
<rect x="2186" y="430.11" width="117" height="10.60" fill="#e2b352"/>
<rect x="2186" y="440.11" width="117" height="10.60" fill="#e2b04d"/>
<rect x="2186" y="450.11" width="117" height="10.60" fill="#e2ad49"/>
<rect x="2186" y="460.12" width="117" height="10.60" fill="#e2aa44"/>
<rect x="2186" y="470.12" width="117" height="10.60" fill="#e2a740"/>
<rect x="2186" y="480.12" width="117" height="10.60" fill="#e2a53c"/>
<rect x="2186" y="490.13" width="117" height="10.60" fill="#e2a239"/>
<rect x="2186" y="500.13" width="117" height="10.60" fill="#e1a037"/>
<rect x="2186" y="510.14" width="117" height="10.60" fill="#e19d34"/>
<rect x="2186" y="520.14" width="117" height="10.60" fill="#e19b32"/>
<rect x="2186" y="530.14" width="117" height="10.60" fill="#e09930"/>
<rect x="2186" y="540.15" width="117" height="10.60" fill="#e0962d"/>
<rect x="2186" y="550.15" width="117" height="10.60" fill="#e0942b"/>
<rect x="2186" y="560.16" width="117" height="10.60" fill="#e09229"/>
<rect x="2186" y="570.16" width="117" height="10.60" fill="#df9027"/>
<rect x="2186" y="580.16" width="117" height="10.60" fill="#df8d25"/>
<rect x="2186" y="590.17" width="117" height="10.60" fill="#df8b23"/>
<rect x="2186" y="600.17" width="117" height="10.60" fill="#df8921"/>
<rect x="2186" y="610.18" width="117" height="10.60" fill="#de871e"/>
<rect x="2186" y="620.18" width="117" height="10.60" fill="#de841c"/>
<rect x="2186" y="630.18" width="117" height="10.60" fill="#de821b"/>
<rect x="2186" y="640.19" width="117" height="10.60" fill="#dd7f1b"/>
<rect x="2186" y="650.19" width="117" height="10.60" fill="#dd7d1a"/>
<rect x="2186" y="660.20" width="117" height="10.60" fill="#dc7a1a"/>
<rect x="2186" y="670.20" width="117" height="10.60" fill="#dc7819"/>
<rect x="2186" y="680.20" width="117" height="10.60" fill="#db7518"/>
<rect x="2186" y="690.21" width="117" height="10.60" fill="#da7218"/>
<rect x="2186" y="700.21" width="117" height="10.60" fill="#d96e17"/>
<rect x="2186" y="710.21" width="117" height="10.60" fill="#d86b16"/>
<rect x="2186" y="720.22" width="117" height="10.60" fill="#d76816"/>
<rect x="2186" y="730.22" width="117" height="10.60" fill="#d66515"/>
<rect x="2186" y="740.23" width="117" height="10.60" fill="#d66315"/>
<rect x="2186" y="750.23" width="117" height="10.60" fill="#d66015"/>
<rect x="2186" y="760.23" width="117" height="10.60" fill="#d55d14"/>
<rect x="2186" y="770.24" width="117" height="10.60" fill="#d45a14"/>
<rect x="2186" y="780.24" width="117" height="10.60" fill="#d45614"/>
<rect x="2186" y="790.25" width="117" height="10.60" fill="#d35214"/>
<rect x="2186" y="800.25" width="117" height="10.60" fill="#d24e14"/>
<rect x="2186" y="810.25" width="117" height="10.60" fill="#ce4b16"/>
<rect x="2186" y="820.26" width="117" height="10.60" fill="#cb4819"/>
<rect x="2186" y="830.26" width="117" height="10.60" fill="#c8461b"/>
<rect x="2186" y="840.27" width="117" height="10.60" fill="#c5431d"/>
<rect x="2186" y="850.27" width="117" height="10.60" fill="#c3411e"/>
<rect x="2186" y="860.27" width="117" height="10.60" fill="#c13f20"/>
<rect x="2186" y="870.28" width="117" height="10.60" fill="#bf3d22"/>
<rect x="2186" y="880.28" width="117" height="10.60" fill="#bd3b24"/>
<rect x="2186" y="890.29" width="117" height="10.60" fill="#bb3925"/>
<rect x="2186" y="900.29" width="117" height="10.60" fill="#ba3825"/>
<rect x="2186" y="910.29" width="117" height="10.60" fill="#b83627"/>
<rect x="2186" y="920.30" width="117" height="10.60" fill="#b43528"/>
<rect x="2186" y="930.30" width="117" height="10.60" fill="#b0332a"/>
<rect x="2186" y="940.30" width="117" height="10.60" fill="#ad322b"/>
<rect x="2186" y="950.31" width="117" height="10.60" fill="#a9302d"/>
<rect x="2186" y="960.31" width="117" height="10.60" fill="#a52e2f"/>
<rect x="2186" y="970.32" width="117" height="10.60" fill="#a22d30"/>
<rect x="2186" y="980.32" width="117" height="10.60" fill="#9f2c32"/>
<rect x="2186" y="990.32" width="117" height="10.60" fill="#9b2b35"/>
<rect x="2186" y="1000.33" width="117" height="10.60" fill="#982a37"/>
<rect x="2186" y="1010.33" width="117" height="10.60" fill="#952839"/>
<rect x="2186" y="1020.34" width="117" height="10.60" fill="#92273b"/>
<rect x="2186" y="1030.34" width="117" height="10.60" fill="#8f263d"/>
<rect x="2186" y="1040.34" width="117" height="10.60" fill="#8c253f"/>
<rect x="2186" y="1050.35" width="117" height="10.60" fill="#882441"/>
<rect x="2186" y="1060.35" width="117" height="10.60" fill="#852243"/>
<rect x="2186" y="1070.36" width="117" height="10.60" fill="#822145"/>
<rect x="2186" y="1080.36" width="117" height="10.60" fill="#7f2047"/>
<rect x="2186" y="1090.36" width="117" height="10.60" fill="#7c1f49"/>
<rect x="2186" y="1100.37" width="117" height="10.60" fill="#781e4a"/>
<rect x="2186" y="1110.37" width="117" height="10.60" fill="#751d4a"/>
<rect x="2186" y="1120.38" width="117" height="10.60" fill="#721c4a"/>
<rect x="2186" y="1130.38" width="117" height="10.60" fill="#6f1b4b"/>
<rect x="2186" y="1140.38" width="117" height="10.60" fill="#6c1b4b"/>
<rect x="2186" y="1150.39" width="117" height="10.60" fill="#691a4b"/>
<rect x="2186" y="1160.39" width="117" height="10.60" fill="#65194b"/>
<rect x="2186" y="1170.39" width="117" height="10.60" fill="#61184a"/>
<rect x="2186" y="1180.40" width="117" height="10.60" fill="#5d184a"/>
<rect x="2186" y="1190.40" width="117" height="10.60" fill="#581749"/>
<rect x="2186" y="1200.41" width="117" height="10.60" fill="#541648"/>
<rect x="2186" y="1210.41" width="117" height="10.60" fill="#4f1547"/>
<rect x="2186" y="1220.41" width="117" height="10.60" fill="#4a1446"/>
<rect x="2186" y="1230.42" width="117" height="10.60" fill="#461345"/>
<rect x="2186" y="1240.42" width="117" height="10.60" fill="#411245"/>
<rect x="2186" y="1250.43" width="117" height="10.60" fill="#3c1044"/>
<rect x="2186" y="1260.43" width="117" height="10.60" fill="#380f45"/>
<rect x="2186" y="1270.43" width="117" height="10.60" fill="#360f47"/>
<rect x="2186" y="1280.44" width="117" height="10.60" fill="#330e46"/>
<rect x="2186" y="1290.44" width="117" height="10.60" fill="#2e0d40"/>
<rect x="2186" y="1300.45" width="117" height="10.60" fill="#2a0d3a"/>
<rect x="2186" y="1310.45" width="117" height="10.60" fill="#260c34"/>
<rect x="2186" y="1320.45" width="117" height="10.60" fill="#220b30"/>
<rect x="2186" y="1330.46" width="117" height="10.60" fill="#1e0a2c"/>
<rect x="2186" y="1340.46" width="117" height="10.60" fill="#1b0928"/>
<rect x="2186" y="1350.46" width="117" height="10.60" fill="#170823"/>
<rect x="2186" y="1360.47" width="117" height="10.60" fill="#14071f"/>
<rect x="2186" y="1370.47" width="117" height="10.60" fill="#12061a"/>
<rect x="2186" y="1380.48" width="117" height="10.60" fill="#0f0516"/>
<rect x="2186" y="1390.48" width="117" height="10.60" fill="#0c0412"/>
<rect x="2186" y="1400.48" width="117" height="10.60" fill="#0a030f"/>
<rect x="2186" y="1410.49" width="117" height="10.60" fill="#07020b"/>
<rect x="2186" y="1420.49" width="117" height="10.60" fill="#050209"/>
<rect x="2186" y="1430.50" width="117" height="10.60" fill="#040106"/>
</g>
<path d="M2241 1416.5H2303M2241 1164.5H2303M2241 912.5H2303M2241 660.5H2303M2241 408.5H2303" stroke="#000" stroke-width="1.3" fill="none"/>
<text x="2316" y="1433.8" font-size="51">0</text>
<text x="2316" y="1181.8" font-size="51">0.2</text>
<text x="2316" y="929.9" font-size="51">0.4</text>
<text x="2316" y="677.9" font-size="51">0.6</text>
<text x="2316" y="426.0" font-size="51">0.8</text>
<rect x="369.01" y="1476.8" width="27.5" height="3.1" fill="#ede3c7"/>
<text x="397.62" y="1492.00" font-size="51">0.015</text><rect x="471.65" y="1487.29" width="9.69" height="5.51" fill="#000"/><rect x="485.85" y="1487.29" width="9.29" height="5.51" fill="#000"/>
<rect x="614.89" y="1476.8" width="27.5" height="3.1" fill="#ede3c7"/>
<text x="643.50" y="1492.00" font-size="51">0.01</text><rect x="717.53" y="1487.29" width="9.69" height="5.51" fill="#000"/><rect x="731.73" y="1487.29" width="9.29" height="5.51" fill="#000"/>
<rect x="823.52" y="1476.8" width="27.5" height="3.1" fill="#ede3c7"/>
<text x="852.13" y="1492.00" font-size="51">0.005</text>
<text x="1114.74" y="1492.00" font-size="51">0</text>
<text x="1292.44" y="1492.00" font-size="51">0.005</text>
<text x="1538.32" y="1492.00" font-size="51">0.01</text><rect x="1612.36" y="1487.29" width="9.69" height="5.51" fill="#000"/><rect x="1626.55" y="1487.29" width="9.29" height="5.51" fill="#000"/>
<text x="1746.95" y="1492.00" font-size="51">0.015</text><rect x="1820.99" y="1487.29" width="9.69" height="5.51" fill="#000"/><rect x="1835.18" y="1487.29" width="9.29" height="5.51" fill="#000"/>
<text x="1988.60" y="1492.00" font-size="51">0.02</text>
<text x="2175.0" y="1543" font-size="52.3" text-anchor="end">Time delay: t(L1) - t(H1) [s]</text>
<text x="216.27" y="346.70" font-size="51">10</text><rect x="219.41" y="341.99" width="9.69" height="5.51" fill="#000"/><rect x="233.60" y="341.99" width="9.29" height="5.51" fill="#000"/>
<text x="290.5" y="324.7" font-size="34.5" text-anchor="end">3</text>
<text x="216.27" y="536.98" font-size="51">10</text><rect x="219.41" y="532.27" width="9.69" height="5.51" fill="#000"/><rect x="233.60" y="532.27" width="9.29" height="5.51" fill="#000"/>
<text x="290.5" y="515.0" font-size="34.5" text-anchor="end">2</text>
<text x="188.5" y="537.0" font-size="51" text-anchor="end">6</text>
<path d="M189.8 511.5L214.8 536.0M214.8 511.5L189.8 536.0" stroke="#ede3c7" stroke-width="2.3" fill="none"/>
<text x="216.27" y="604.89" font-size="51">10</text><rect x="219.41" y="600.18" width="9.69" height="5.51" fill="#000"/><rect x="233.60" y="600.18" width="9.29" height="5.51" fill="#000"/>
<text x="290.5" y="582.9" font-size="34.5" text-anchor="end">2</text>
<text x="188.5" y="604.9" font-size="51" text-anchor="end">5</text>
<path d="M189.8 579.4L214.8 603.9M214.8 579.4L189.8 603.9" stroke="#ede3c7" stroke-width="2.3" fill="none"/>
<text x="216.27" y="688.01" font-size="51">10</text><rect x="219.41" y="683.30" width="9.69" height="5.51" fill="#000"/><rect x="233.60" y="683.30" width="9.29" height="5.51" fill="#000"/>
<text x="290.5" y="666.0" font-size="34.5" text-anchor="end">2</text>
<text x="188.5" y="688.0" font-size="51" text-anchor="end">4</text>
<path d="M189.8 662.5L214.8 687.0M214.8 662.5L189.8 687.0" stroke="#ede3c7" stroke-width="2.3" fill="none"/>
<text x="216.27" y="795.17" font-size="51">10</text><rect x="219.41" y="790.46" width="9.69" height="5.51" fill="#000"/><rect x="233.60" y="790.46" width="9.29" height="5.51" fill="#000"/>
<text x="290.5" y="773.2" font-size="34.5" text-anchor="end">2</text>
<text x="188.5" y="795.2" font-size="51" text-anchor="end">3</text>
<path d="M189.8 769.7L214.8 794.2M214.8 769.7L189.8 794.2" stroke="#ede3c7" stroke-width="2.3" fill="none"/>
<text x="216.27" y="946.21" font-size="51">10</text><rect x="219.41" y="941.50" width="9.69" height="5.51" fill="#000"/><rect x="233.60" y="941.50" width="9.29" height="5.51" fill="#000"/>
<text x="290.5" y="924.2" font-size="34.5" text-anchor="end">2</text>
<text x="188.5" y="946.2" font-size="51" text-anchor="end">2</text>
<path d="M189.8 920.7L214.8 945.2M214.8 920.7L189.8 945.2" stroke="#ede3c7" stroke-width="2.3" fill="none"/>
<text x="216.27" y="1204.40" font-size="51">10</text><rect x="219.41" y="1199.69" width="9.69" height="5.51" fill="#000"/><rect x="233.60" y="1199.69" width="9.29" height="5.51" fill="#000"/>
<text x="290.5" y="1182.4" font-size="34.5" text-anchor="end">2</text>
<text x="290.5" y="1332.8" font-size="51" text-anchor="end">70</text>
<text x="290.5" y="1390.2" font-size="51" text-anchor="end">60</text>
<text transform="translate(158,157.5) rotate(-90)" font-size="52" text-anchor="end">Frequency [Hz]</text>
<g transform="translate(944,14) scale(0.05685)"><g fill="none" stroke="#ede3c7" stroke-linecap="round"><path d="M295,125 C220,105 165,165 182,232 C196,282 240,296 275,290" stroke-width="62"/><path d="M255,292 C330,250 400,195 480,185" stroke-width="48"/><path d="M272,305 C205,355 195,460 240,520 C262,548 292,562 322,562" stroke-width="62"/><path d="M295,560 C380,535 460,518 545,525" stroke-width="56"/><path d="M315,575 C190,620 118,730 124,850 C128,930 170,1000 260,1040" stroke-width="84"/><path d="M230,1030 C300,1070 420,1072 520,1072 C580,1072 630,1085 650,1120" stroke-width="118"/><path d="M640,1100 C670,1170 665,1250 620,1300 C585,1335 545,1332 505,1325" stroke-width="76"/></g><g fill="#ede3c7"><ellipse cx="488" cy="212" rx="78" ry="55" transform="rotate(-28 488 212)"/><ellipse cx="540" cy="540" rx="82" ry="60" transform="rotate(-6 540 540)"/><ellipse cx="462" cy="1372" rx="88" ry="68" transform="rotate(12 462 1372)"/></g></g>
<text transform="translate(2465,199.5) rotate(-90)" font-size="52" text-anchor="end">Cross-correlation</text>
<g transform="translate(2420.1,184.96) rotate(-90) scale(0.036)"><g fill="none" stroke="#ede3c7" stroke-linecap="round"><path d="M295,125 C220,105 165,165 182,232 C196,282 240,296 275,290" stroke-width="62"/><path d="M255,292 C330,250 400,195 480,185" stroke-width="48"/><path d="M272,305 C205,355 195,460 240,520 C262,548 292,562 322,562" stroke-width="62"/><path d="M295,560 C380,535 460,518 545,525" stroke-width="56"/><path d="M315,575 C190,620 118,730 124,850 C128,930 170,1000 260,1040" stroke-width="84"/><path d="M230,1030 C300,1070 420,1072 520,1072 C580,1072 630,1085 650,1120" stroke-width="118"/><path d="M640,1100 C670,1170 665,1250 620,1300 C585,1335 545,1332 505,1325" stroke-width="76"/></g><g fill="#ede3c7"><ellipse cx="488" cy="212" rx="78" ry="55" transform="rotate(-28 488 212)"/><ellipse cx="540" cy="540" rx="82" ry="60" transform="rotate(-6 540 540)"/><ellipse cx="462" cy="1372" rx="88" ry="68" transform="rotate(12 462 1372)"/></g></g>
<text x="985" y="80" font-size="77">(</text>
<text x="1010" y="80" font-size="81" class="s">δ</text>
<text x="1067" y="80" font-size="75.5">t, f),</text>
<text x="1219" y="80" font-size="78">Q</text>
<text x="1303" y="80" font-size="78">=</text>
<g transform="translate(1369.6,78.5) scale(0.99,1)"><text x="0.00" y="0.00" font-size="78">10.5061</text><rect x="5.11" y="-6.73" width="14.50" height="7.53" fill="#000"/><rect x="26.51" y="-6.73" width="13.89" height="7.53" fill="#000"/><rect x="243.68" y="-6.73" width="14.50" height="7.53" fill="#000"/><rect x="265.08" y="-6.73" width="13.89" height="7.53" fill="#000"/></g>
</svg></body></html>
